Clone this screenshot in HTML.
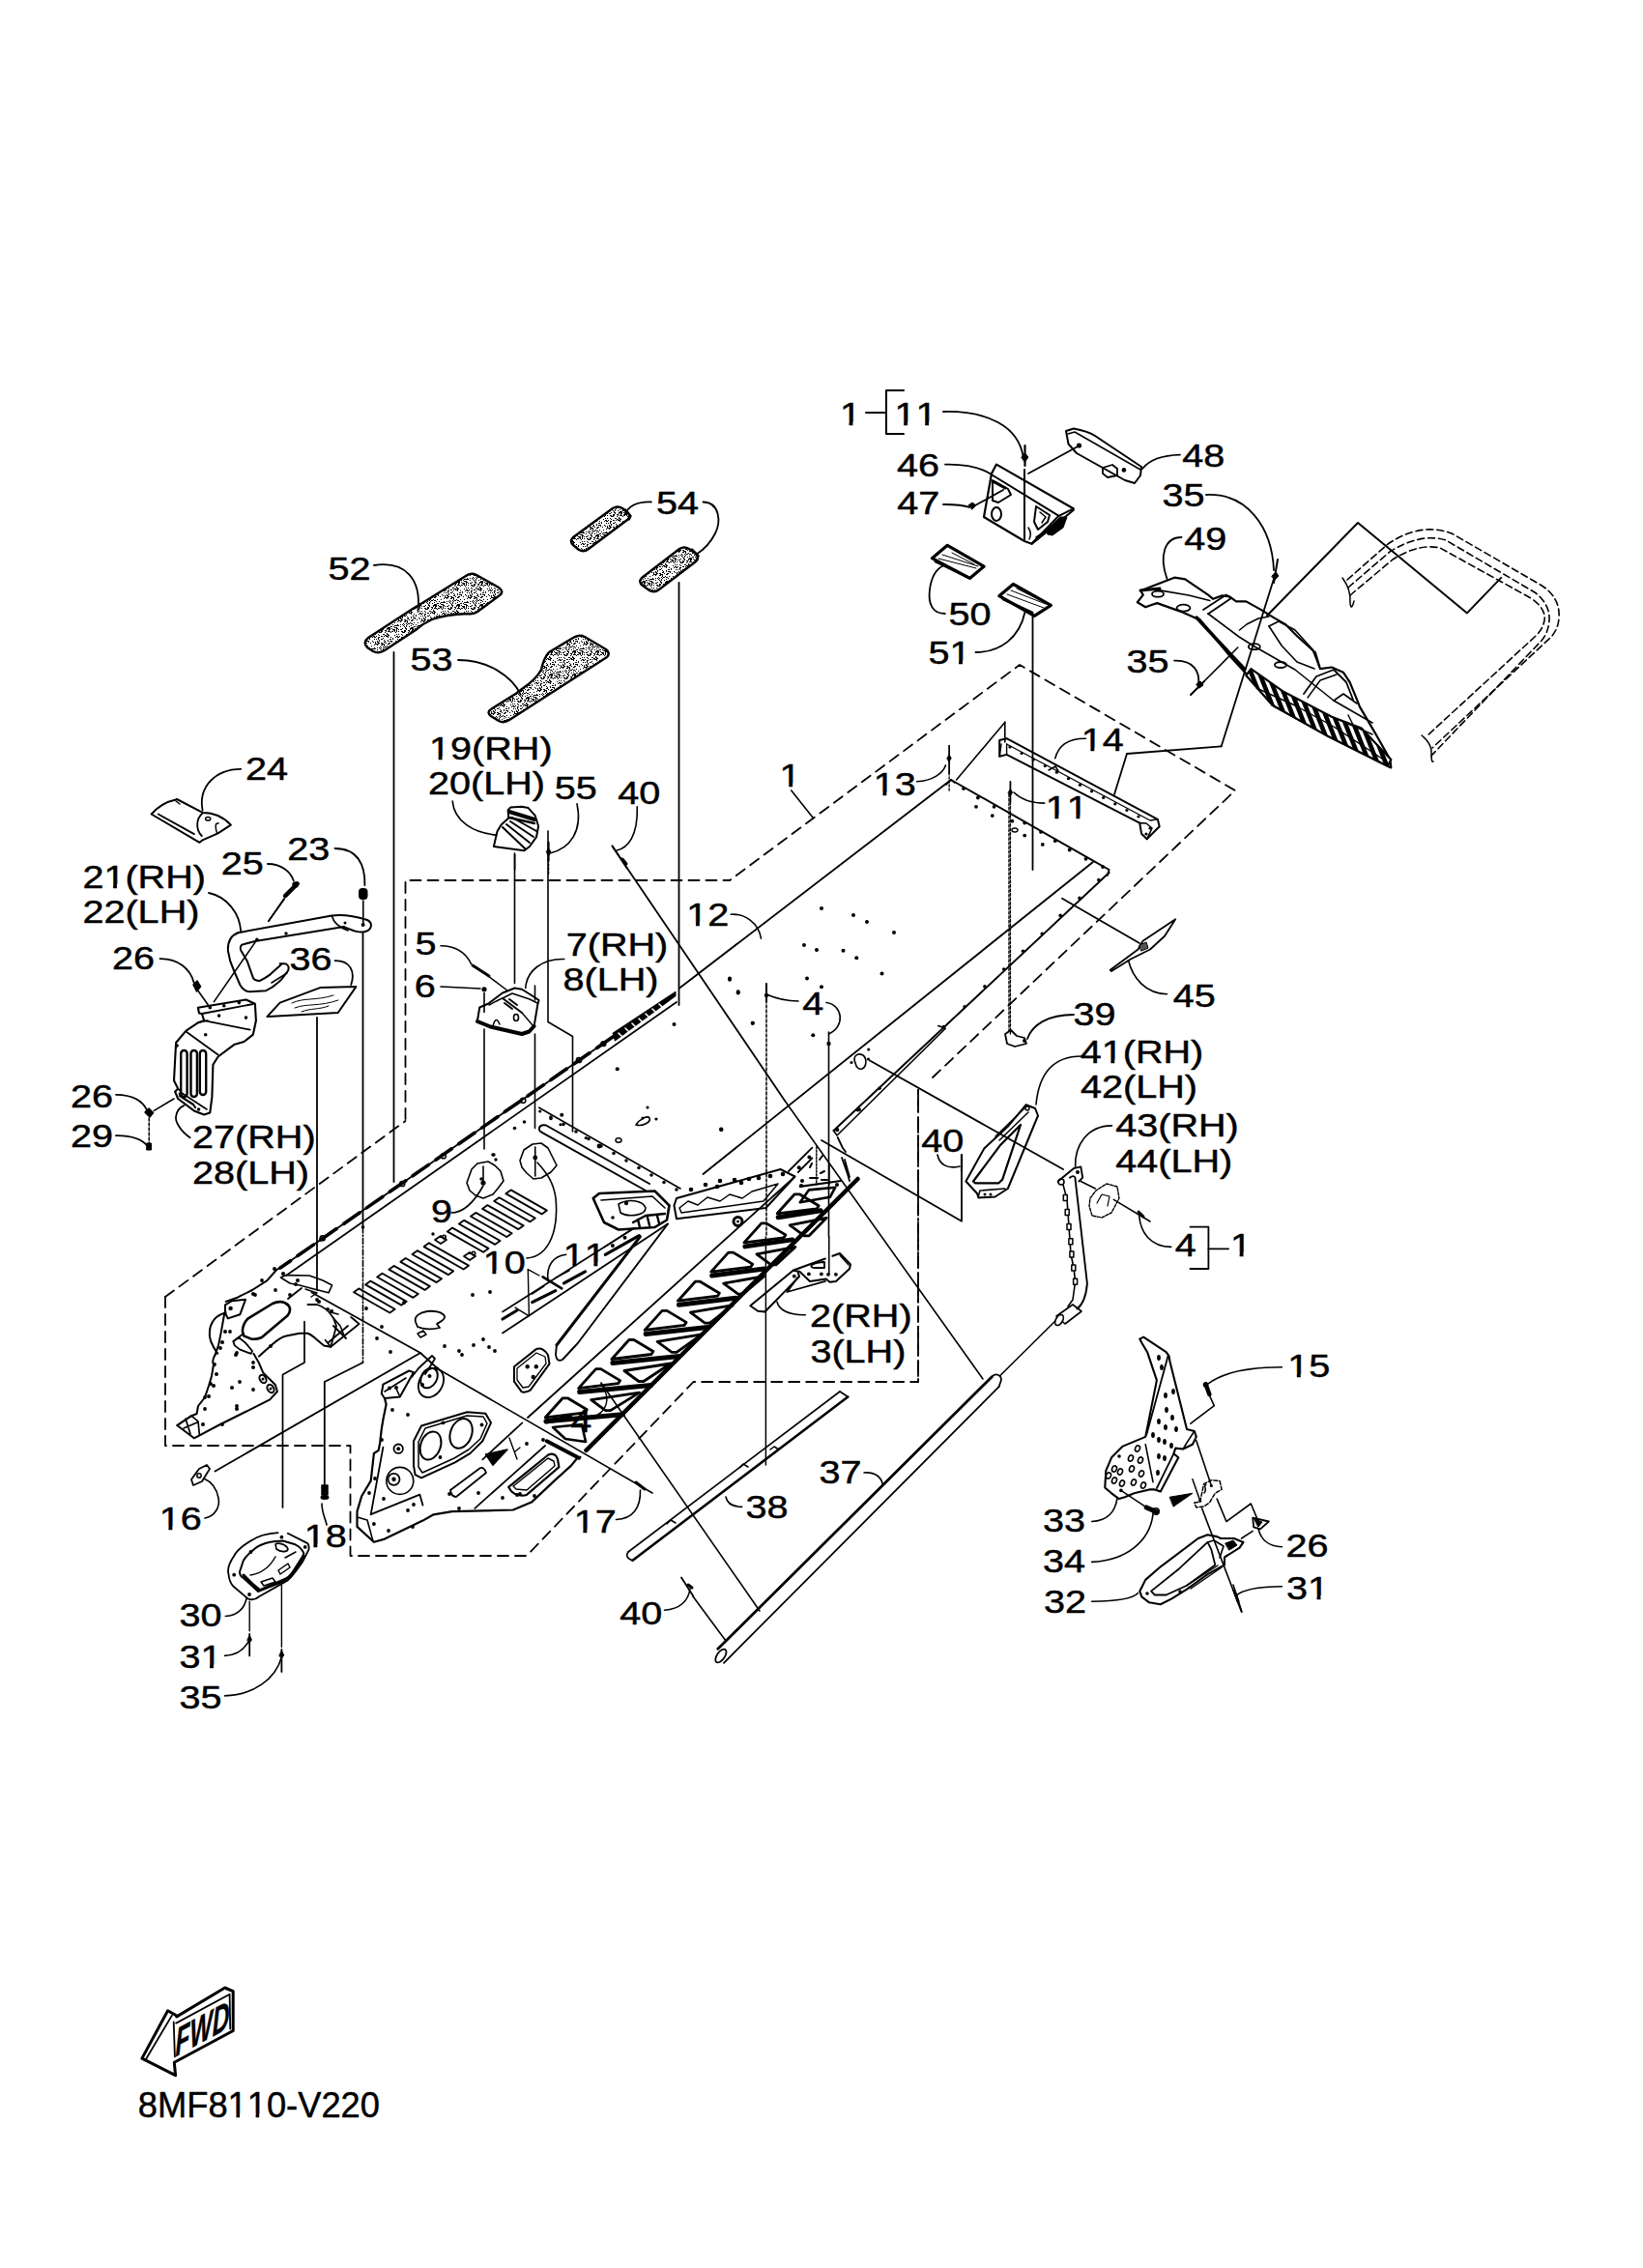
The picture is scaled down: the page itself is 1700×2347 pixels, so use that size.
<!DOCTYPE html>
<html><head><meta charset="utf-8"><style>
html,body{margin:0;padding:0;background:#fff;}
svg{display:block;}
text{font-family:"Liberation Sans",sans-serif;fill:#000;stroke:#000;stroke-width:0.45px;font-kerning:none;}
</style></head><body>
<svg width="1700" height="2347" viewBox="0 0 1700 2347" xmlns="http://www.w3.org/2000/svg" stroke-linecap="round" stroke-linejoin="round">
<rect width="1700" height="2347" fill="#fff"/>
<g transform="translate(679.0,532.2) scale(1.2,1)"><text font-size="33.0">54</text></g>
<g transform="translate(339.6,599.6) scale(1.2,1)"><text font-size="33.0">52</text></g>
<g transform="translate(424.5,694.4) scale(1.2,1)"><text font-size="33.0">53</text></g>
<g transform="translate(254.0,807.0) scale(1.2,1)"><text font-size="33.0">24</text></g>
<g transform="translate(444.0,786.0) scale(1.2,1)"><text font-size="33.0">19(RH)</text><rect x="1.65" y="-3.30" width="6.37" height="4.95" fill="#fff"/><rect x="11.29" y="-3.30" width="6.60" height="4.95" fill="#fff"/></g>
<g transform="translate(443.0,822.1) scale(1.2,1)"><text font-size="33.0">20(LH)</text></g>
<g transform="translate(573.8,827.1) scale(1.2,1)"><text font-size="33.0">55</text></g>
<g transform="translate(639.2,831.5) scale(1.2,1)"><text font-size="33.0">40</text></g>
<g transform="translate(297.2,890.2) scale(1.2,1)"><text font-size="33.0">23</text></g>
<g transform="translate(228.7,905.4) scale(1.2,1)"><text font-size="33.0">25</text></g>
<g transform="translate(85.4,918.5) scale(1.2,1)"><text font-size="33.0">21(RH)</text><rect x="20.00" y="-3.30" width="6.37" height="4.95" fill="#fff"/><rect x="29.63" y="-3.30" width="6.60" height="4.95" fill="#fff"/></g>
<g transform="translate(85.4,954.5) scale(1.2,1)"><text font-size="33.0">22(LH)</text></g>
<g transform="translate(710.3,957.8) scale(1.2,1)"><text font-size="33.0">12</text><rect x="1.65" y="-3.30" width="6.37" height="4.95" fill="#fff"/><rect x="11.29" y="-3.30" width="6.60" height="4.95" fill="#fff"/></g>
<g transform="translate(116.1,1003.4) scale(1.2,1)"><text font-size="33.0">26</text></g>
<g transform="translate(299.4,1004.3) scale(1.2,1)"><text font-size="33.0">36</text></g>
<g transform="translate(429.6,988.1) scale(1.2,1)"><text font-size="33.0">5</text></g>
<g transform="translate(428.8,1031.7) scale(1.2,1)"><text font-size="33.0">6</text></g>
<g transform="translate(585.7,988.9) scale(1.2,1)"><text font-size="33.0">7(RH)</text></g>
<g transform="translate(582.5,1025.1) scale(1.2,1)"><text font-size="33.0">8(LH)</text></g>
<g transform="translate(73.0,1146.0) scale(1.2,1)"><text font-size="33.0">26</text></g>
<g transform="translate(73.0,1187.0) scale(1.2,1)"><text font-size="33.0">29</text></g>
<g transform="translate(199.0,1188.0) scale(1.2,1)"><text font-size="33.0">27(RH)</text></g>
<g transform="translate(199.0,1225.0) scale(1.2,1)"><text font-size="33.0">28(LH)</text></g>
<g transform="translate(446.0,1265.0) scale(1.2,1)"><text font-size="33.0">9</text></g>
<g transform="translate(499.8,1318.0) scale(1.2,1)"><text font-size="33.0">10</text><rect x="1.65" y="-3.30" width="6.37" height="4.95" fill="#fff"/><rect x="11.29" y="-3.30" width="6.60" height="4.95" fill="#fff"/></g>
<g transform="translate(582.8,1310.0) scale(1.2,1)"><text font-size="33.0">11</text><rect x="1.65" y="-3.30" width="6.37" height="4.95" fill="#fff"/><rect x="11.29" y="-3.30" width="6.60" height="4.95" fill="#fff"/><rect x="20.00" y="-3.30" width="6.37" height="4.95" fill="#fff"/><rect x="29.63" y="-3.30" width="6.60" height="4.95" fill="#fff"/></g>
<g transform="translate(590.2,1482.0) scale(1.2,1)"><text font-size="33.0">4</text></g>
<g transform="translate(164.8,1583.0) scale(1.2,1)"><text font-size="33.0">16</text><rect x="1.65" y="-3.30" width="6.37" height="4.95" fill="#fff"/><rect x="11.29" y="-3.30" width="6.60" height="4.95" fill="#fff"/></g>
<g transform="translate(314.8,1601.0) scale(1.2,1)"><text font-size="33.0">18</text><rect x="1.65" y="-3.30" width="6.37" height="4.95" fill="#fff"/><rect x="11.29" y="-3.30" width="6.60" height="4.95" fill="#fff"/></g>
<g transform="translate(593.8,1586.0) scale(1.2,1)"><text font-size="33.0">17</text><rect x="1.65" y="-3.30" width="6.37" height="4.95" fill="#fff"/><rect x="11.29" y="-3.30" width="6.60" height="4.95" fill="#fff"/></g>
<g transform="translate(771.4,1571.0) scale(1.2,1)"><text font-size="33.0">38</text></g>
<g transform="translate(185.4,1683.0) scale(1.2,1)"><text font-size="33.0">30</text></g>
<g transform="translate(185.4,1726.0) scale(1.2,1)"><text font-size="33.0">31</text><rect x="20.00" y="-3.30" width="6.37" height="4.95" fill="#fff"/><rect x="29.63" y="-3.30" width="6.60" height="4.95" fill="#fff"/></g>
<g transform="translate(185.4,1768.0) scale(1.2,1)"><text font-size="33.0">35</text></g>
<g transform="translate(641.2,1681.0) scale(1.2,1)"><text font-size="33.0">40</text></g>
<g transform="translate(838.0,1373.0) scale(1.2,1)"><text font-size="33.0">2(RH)</text></g>
<g transform="translate(838.4,1410.0) scale(1.2,1)"><text font-size="33.0">3(LH)</text></g>
<g transform="translate(847.4,1535.0) scale(1.2,1)"><text font-size="33.0">37</text></g>
<g transform="translate(1332.2,1425.2) scale(1.2,1)"><text font-size="33.0">15</text><rect x="1.65" y="-3.30" width="6.37" height="4.95" fill="#fff"/><rect x="11.29" y="-3.30" width="6.60" height="4.95" fill="#fff"/></g>
<g transform="translate(1079.1,1584.7) scale(1.2,1)"><text font-size="33.0">33</text></g>
<g transform="translate(1079.1,1627.1) scale(1.2,1)"><text font-size="33.0">34</text></g>
<g transform="translate(1080.0,1668.6) scale(1.2,1)"><text font-size="33.0">32</text></g>
<g transform="translate(1330.5,1611.1) scale(1.2,1)"><text font-size="33.0">26</text></g>
<g transform="translate(1330.9,1654.5) scale(1.2,1)"><text font-size="33.0">31</text><rect x="20.00" y="-3.30" width="6.37" height="4.95" fill="#fff"/><rect x="29.63" y="-3.30" width="6.60" height="4.95" fill="#fff"/></g>
<g transform="translate(1215.8,1299.5) scale(1.2,1)"><text font-size="33.0">4</text></g>
<g transform="translate(1273.0,1299.5) scale(1.2,1)"><text font-size="33.0">1</text><rect x="1.65" y="-3.30" width="6.37" height="4.95" fill="#fff"/><rect x="11.29" y="-3.30" width="6.60" height="4.95" fill="#fff"/></g>
<g transform="translate(868.9,440.0) scale(1.2,1)"><text font-size="33.0">1</text><rect x="1.65" y="-3.30" width="6.37" height="4.95" fill="#fff"/><rect x="11.29" y="-3.30" width="6.60" height="4.95" fill="#fff"/></g>
<g transform="translate(925.5,440.0) scale(1.2,1)"><text font-size="33.0">11</text><rect x="1.65" y="-3.30" width="6.37" height="4.95" fill="#fff"/><rect x="11.29" y="-3.30" width="6.60" height="4.95" fill="#fff"/><rect x="20.00" y="-3.30" width="6.37" height="4.95" fill="#fff"/><rect x="29.63" y="-3.30" width="6.60" height="4.95" fill="#fff"/></g>
<g transform="translate(928.1,492.6) scale(1.2,1)"><text font-size="33.0">46</text></g>
<g transform="translate(928.3,531.8) scale(1.2,1)"><text font-size="33.0">47</text></g>
<g transform="translate(1223.2,483.0) scale(1.2,1)"><text font-size="33.0">48</text></g>
<g transform="translate(1202.4,524.0) scale(1.2,1)"><text font-size="33.0">35</text></g>
<g transform="translate(1225.2,569.0) scale(1.2,1)"><text font-size="33.0">49</text></g>
<g transform="translate(981.4,647.0) scale(1.2,1)"><text font-size="33.0">50</text></g>
<g transform="translate(960.4,687.0) scale(1.2,1)"><text font-size="33.0">51</text><rect x="20.00" y="-3.30" width="6.37" height="4.95" fill="#fff"/><rect x="29.63" y="-3.30" width="6.60" height="4.95" fill="#fff"/></g>
<g transform="translate(1165.4,696.0) scale(1.2,1)"><text font-size="33.0">35</text></g>
<g transform="translate(1118.8,777.0) scale(1.2,1)"><text font-size="33.0">14</text><rect x="1.65" y="-3.30" width="6.37" height="4.95" fill="#fff"/><rect x="11.29" y="-3.30" width="6.60" height="4.95" fill="#fff"/></g>
<g transform="translate(903.8,823.0) scale(1.2,1)"><text font-size="33.0">13</text><rect x="1.65" y="-3.30" width="6.37" height="4.95" fill="#fff"/><rect x="11.29" y="-3.30" width="6.60" height="4.95" fill="#fff"/></g>
<g transform="translate(1081.8,847.0) scale(1.2,1)"><text font-size="33.0">11</text><rect x="1.65" y="-3.30" width="6.37" height="4.95" fill="#fff"/><rect x="11.29" y="-3.30" width="6.60" height="4.95" fill="#fff"/><rect x="20.00" y="-3.30" width="6.37" height="4.95" fill="#fff"/><rect x="29.63" y="-3.30" width="6.60" height="4.95" fill="#fff"/></g>
<g transform="translate(806.6,814.0) scale(1.2,1)"><text font-size="33.0">1</text><rect x="1.65" y="-3.30" width="6.37" height="4.95" fill="#fff"/><rect x="11.29" y="-3.30" width="6.60" height="4.95" fill="#fff"/></g>
<g transform="translate(1213.8,1041.8) scale(1.2,1)"><text font-size="33.0">45</text></g>
<g transform="translate(1110.5,1061.2) scale(1.2,1)"><text font-size="33.0">39</text></g>
<g transform="translate(1117.7,1100.0) scale(1.2,1)"><text font-size="33.0">41(RH)</text><rect x="20.00" y="-3.30" width="6.37" height="4.95" fill="#fff"/><rect x="29.63" y="-3.30" width="6.60" height="4.95" fill="#fff"/></g>
<g transform="translate(1118.0,1136.2) scale(1.2,1)"><text font-size="33.0">42(LH)</text></g>
<g transform="translate(1154.2,1176.3) scale(1.2,1)"><text font-size="33.0">43(RH)</text></g>
<g transform="translate(1154.2,1212.5) scale(1.2,1)"><text font-size="33.0">44(LH)</text></g>
<g transform="translate(953.2,1192.0) scale(1.2,1)"><text font-size="33.0">40</text></g>
<g transform="translate(830.2,1049.8) scale(1.2,1)"><text font-size="33.0">4</text></g>
<g transform="translate(142.8,2191.0) scale(0.992,1)"><text font-size="36.6">8MF8110-V220</text><rect x="95.38" y="-3.66" width="7.06" height="5.49" fill="#fff"/><rect x="106.07" y="-3.66" width="7.32" height="5.49" fill="#fff"/><rect x="115.73" y="-3.66" width="7.06" height="5.49" fill="#fff"/><rect x="126.42" y="-3.66" width="7.32" height="5.49" fill="#fff"/></g>
<line x1="896" y1="427" x2="916" y2="427" stroke="#000" stroke-width="2" />
<path d="M935,404 L917,404 L917,449 L935,449" fill="none" stroke="#000" stroke-width="2" />
<path d="M976,426 C1020,425 1055,440 1059,475" fill="none" stroke="#000" stroke-width="1.8" />
<line x1="1060.5" y1="461" x2="1060.5" y2="482" stroke="#000" stroke-width="2.2" />
<path d="M1057,473 L1060.5,469 L1064,473 L1060.5,478 Z" fill="#000" stroke="#000" stroke-width="1" />
<line x1="1060" y1="486" x2="1060" y2="558" stroke="#000" stroke-width="2" />
<line x1="1064" y1="490" x2="1117" y2="461" stroke="#000" stroke-width="1.8" />
<path d="M1103,446 L1111,443.5 Q1125,446 1133,451 L1181,483 L1180,492 L1174,500 L1164,497 L1114,469 L1105.5,459.5 Z" fill="none" stroke="#000" stroke-width="2" />
<path d="M1105,449 L1112,447 L1180,486" fill="none" stroke="#000" stroke-width="1.5" />
<circle cx="1116.5" cy="461" r="2.6"/>
<circle cx="1162.9" cy="486.4" r="2.3"/>
<path d="M1141,484 L1151,481 L1156,485 L1156,492 L1146,494 L1141,490 Z" fill="none" stroke="#000" stroke-width="1.8" />
<path d="M1221,470.6 C1205,471 1190,475 1182,485" fill="none" stroke="#000" stroke-width="1.8" />
<path d="M1031,480.6 L1110.6,526.3 L1110.6,528 L1067.5,562.8 L1060,560 L1018,535 L1026,490 Z" fill="none" stroke="#000" stroke-width="2.2" />
<path d="M1026.5,491.5 L1095.6,533.8 L1110.6,526.3" fill="none" stroke="#000" stroke-width="2" />
<path d="M1095.6,533.8 L1067.5,562.5" fill="none" stroke="#000" stroke-width="2" />
<path d="M1084,547 L1097,535 L1104,535 L1100,546 L1089,554 L1084,553 Z" fill="#000" stroke="#000" stroke-width="1" />
<path d="M1072,556 L1100,538" fill="none" stroke="#000" stroke-width="1.5" />
<path d="M1072,524 L1086,533 L1084,540 L1074,548 L1070,540 Z" fill="none" stroke="#000" stroke-width="2" />
<path d="M1076,530 L1082,535 L1078,541" fill="none" stroke="#000" stroke-width="1.5" />
<path d="M1027,497 L1043,506 L1046,512 L1033,520 L1027,518 Z" fill="none" stroke="#000" stroke-width="2" />
<path d="M1029,499 L1040,505" fill="none" stroke="#000" stroke-width="3" />
<ellipse cx="1031" cy="532" rx="5" ry="7" fill="none" stroke="#000" stroke-width="2"/>
<path d="M1064,546 Q1068,552 1065,558" fill="none" stroke="#000" stroke-width="1.5" />
<path d="M978,480.6 C1000,480 1015,484 1026,491" fill="none" stroke="#000" stroke-width="1.8" />
<path d="M976,522 C990,522 998,523 1003,525" fill="none" stroke="#000" stroke-width="1.8" />
<path d="M1002,523 L1006,520 L1010,523 L1006,527 Z" fill="#000" stroke="#000" stroke-width="1" />
<line x1="1010" y1="522.5" x2="1038" y2="507" stroke="#000" stroke-width="1.8" />
<path d="M964.4,577.7 L980.3,564.3 L1018,586.2 L1003.4,598.4 Z" fill="none" stroke="#000" stroke-width="3.2" />
<path d="M971,578 L1010,588 M975,574 L1012,586 M985,572 L1008,584" fill="none" stroke="#000" stroke-width="1" />
<path d="M968,581 L1001,597" fill="none" stroke="#000" stroke-width="3" />
<path d="M1033.8,616.7 L1048.4,604.5 L1087.4,626.4 L1070.3,637.4 Z" fill="none" stroke="#000" stroke-width="3.2" />
<path d="M1042,615 L1080,629 M1046,611 L1082,625 M1052,609 L1078,622" fill="none" stroke="#000" stroke-width="1" />
<path d="M1038,620 L1068,634" fill="none" stroke="#000" stroke-width="3" />
<path d="M977.8,635 C965,635 960,625 962,610 C964,595 970,588 976.6,585" fill="none" stroke="#000" stroke-width="1.8" />
<path d="M1009.5,675 C1035,675 1055,660 1060.6,633" fill="none" stroke="#000" stroke-width="1.8" />
<line x1="1068.5" y1="638" x2="1068.5" y2="900" stroke="#000" stroke-width="1.8" />
<path d="M1176.8,623.2 L1182.8,615.6 L1180.2,611.3 L1204.1,601.9 L1215.2,597.7 L1226.2,599.4 L1250.1,615.6 L1255.2,619.8 L1264.6,616.4 L1272.2,617.3 L1279.1,622.4 L1289.3,622.4 L1304.6,630.9 L1318.3,639.4 L1330.2,646.2 L1342.1,658.2 L1360.9,675.2 L1366,692.2 L1377.9,690.5 L1389.8,695.7 L1396.6,705.9 L1404.3,724.6 L1406.9,731.4 L1423.9,760.4 L1438.4,786 L1439.3,794.5 L1435.8,792.8 L1374.5,762.1 L1316.6,729.7 L1292.7,700.8 L1272.2,678.6 L1241.6,641.1 L1234.8,638.6 L1221.1,632.6 L1197.3,624.1 L1192.2,625.8 L1185.3,628.3 Z" fill="none" stroke="#000" stroke-width="2.2" />
<clipPath id="flapclip"><path d="M1289.3,699 L1316.6,729.7 L1374.5,762.1 L1435.8,792.8 L1439.3,786 L1408.6,753.6 L1377.9,741.7 L1328.5,716.1 L1294.4,692.2 Z"/></clipPath>
<g clip-path="url(#flapclip)"><rect x="1280" y="680" width="170" height="130" fill="#fff"/><path d="M1220.0,680 l52,130 M1228.5,680 l52,130 M1237.0,680 l52,130 M1245.5,680 l52,130 M1254.0,680 l52,130 M1262.5,680 l52,130 M1271.0,680 l52,130 M1279.5,680 l52,130 M1288.0,680 l52,130 M1296.5,680 l52,130 M1305.0,680 l52,130 M1313.5,680 l52,130 M1322.0,680 l52,130 M1330.5,680 l52,130 M1339.0,680 l52,130 M1347.5,680 l52,130 M1356.0,680 l52,130 M1364.5,680 l52,130 M1373.0,680 l52,130 M1381.5,680 l52,130 M1390.0,680 l52,130 M1398.5,680 l52,130 M1407.0,680 l52,130 M1415.5,680 l52,130 M1424.0,680 l52,130 M1432.5,680 l52,130 M1441.0,680 l52,130 M1449.5,680 l52,130" stroke="#000" stroke-width="4.6" fill="none"/></g>
<path d="M1289.3,699 L1316.6,729.7 L1374.5,762.1 L1435.8,792.8 L1439.3,786 L1408.6,753.6 L1377.9,741.7 L1328.5,716.1 L1294.4,692.2 Z" fill="none" stroke="#000" stroke-width="2.2" />
<path d="M1300,712 L1340,730 L1380,752 L1430,785" fill="none" stroke="#000" stroke-width="1.4" />
<path d="M1238,639 L1262,665 L1287.6,692.2" fill="none" stroke="#000" stroke-width="3.5" />
<path d="M1197,610.4 L1230,616 L1251.8,621.5" fill="none" stroke="#000" stroke-width="1.6" />
<path d="M1245,630.9 L1268.8,615.6 L1274,619 L1250,635.2" fill="none" stroke="#000" stroke-width="1.8" />
<path d="M1250,635 L1282,659 L1298,669 L1340,693 L1380,725 L1420,748" fill="none" stroke="#000" stroke-width="1.6" />
<path d="M1282.5,652 L1290,646 L1302,640 L1313,638" fill="none" stroke="#000" stroke-width="1.6" />
<path d="M1313,648 L1323,643 L1340,652 L1358,672 L1365,690" fill="none" stroke="#000" stroke-width="1.6" />
<path d="M1313,648 L1326,668 L1342,685 L1360,692" fill="none" stroke="#000" stroke-width="1.6" />
<path d="M1349,718 L1362,700 L1380,693 L1393,706 L1400,724" fill="none" stroke="#000" stroke-width="1.8" />
<path d="M1353,722 L1366,704 L1383,698" fill="none" stroke="#000" stroke-width="1.4" />
<path d="M1380,725 L1390,718 L1404,728" fill="none" stroke="#000" stroke-width="1.6" />
<path d="M1386,745 L1420,760 M1395,740 L1410,770" fill="none" stroke="#000" stroke-width="1.4" />
<ellipse cx="1198" cy="614.7" rx="6" ry="3" fill="none" stroke="#000" stroke-width="1.8"/>
<ellipse cx="1224.5" cy="629.2" rx="7" ry="3.5" fill="none" stroke="#000" stroke-width="1.8"/>
<ellipse cx="1297.8" cy="669.2" rx="6" ry="3" fill="none" stroke="#000" stroke-width="1.8"/>
<ellipse cx="1325" cy="688" rx="6" ry="3" fill="none" stroke="#000" stroke-width="1.8"/>
<path d="M1180,611 L1200,609" fill="none" stroke="#000" stroke-width="3" />
<path d="M1222.5,556 C1205,556 1199,575 1207.5,599" fill="none" stroke="#000" stroke-width="1.8" />
<path d="M1248,512 C1290,510 1316,545 1318,590" fill="none" stroke="#000" stroke-width="1.8" />
<line x1="1322" y1="579" x2="1318" y2="603" stroke="#000" stroke-width="2" />
<path d="M1316,596 L1320,592 L1323,596 L1319,600 Z" fill="#000" stroke="#000" stroke-width="1" />
<line x1="1318.3" y1="598" x2="1263.7" y2="772.3" stroke="#000" stroke-width="1.8" />
<line x1="1263.7" y1="772.3" x2="1166" y2="780" stroke="#000" stroke-width="1.8" />
<line x1="1166" y1="780" x2="1153" y2="822" stroke="#000" stroke-width="1.8" />
<path d="M1215.2,683.7 C1235,683 1242,695 1239.9,709.3" fill="none" stroke="#000" stroke-width="1.8" />
<line x1="1232" y1="719" x2="1246" y2="705" stroke="#000" stroke-width="2" />
<path d="M1238,708 L1242,705 L1245,709 L1241,712 Z" fill="#000" stroke="#000" stroke-width="1" />
<line x1="1246.7" y1="704.2" x2="1280.8" y2="670" stroke="#000" stroke-width="1.6" />
<path d="M1311,637 L1405,541 L1518,634.4 L1553.2,597.9" fill="none" stroke="#000" stroke-width="2" />
<path d="M1394,600 L1436,563 Q1470,540 1502,552 L1592,604 Q1615,617 1613,640 Q1612,652 1604,660 L1482,774" fill="none" stroke="#000" stroke-width="1.6" stroke-dasharray="7 4"/>
<path d="M1395,608 L1438,571 Q1470,551 1496,559 L1588,613 Q1604,625 1603,642 Q1602,655 1595,663 L1481,782" fill="none" stroke="#000" stroke-width="1.6" stroke-dasharray="7 4"/>
<path d="M1397,616 L1441,579 Q1468,562 1490,567 L1584,619 Q1600,630 1598,642 Q1596,652 1588,659 L1476,762" fill="none" stroke="#000" stroke-width="1.6" stroke-dasharray="7 4"/>
<path d="M1389,598 Q1398,610 1397,624 Q1398,633 1401,622" fill="none" stroke="#000" stroke-width="1.5" />
<path d="M1471,761 Q1482,770 1481,780 Q1481,790 1483,788" fill="none" stroke="#000" stroke-width="1.5" />
<defs><pattern id="stip" width="24" height="24" patternUnits="userSpaceOnUse"><rect width="24" height="24" fill="#fff"/><rect x="6" y="0" width="1" height="1"/><rect x="10" y="0" width="1" height="1"/><rect x="12" y="0" width="1" height="1"/><rect x="15" y="0" width="1" height="1"/><rect x="20" y="0" width="1" height="1"/><rect x="21" y="0" width="1" height="1"/><rect x="23" y="0" width="1" height="1"/><rect x="0" y="1" width="1" height="1"/><rect x="1" y="1" width="1" height="1"/><rect x="2" y="1" width="1" height="1"/><rect x="11" y="1" width="1" height="1"/><rect x="17" y="1" width="1" height="1"/><rect x="18" y="1" width="1" height="1"/><rect x="19" y="1" width="1" height="1"/><rect x="2" y="2" width="1" height="1"/><rect x="3" y="2" width="1" height="1"/><rect x="8" y="2" width="1" height="1"/><rect x="11" y="2" width="1" height="1"/><rect x="12" y="2" width="1" height="1"/><rect x="16" y="2" width="1" height="1"/><rect x="17" y="2" width="1" height="1"/><rect x="18" y="2" width="1" height="1"/><rect x="19" y="2" width="1" height="1"/><rect x="21" y="2" width="1" height="1"/><rect x="0" y="3" width="1" height="1"/><rect x="2" y="3" width="1" height="1"/><rect x="4" y="3" width="1" height="1"/><rect x="6" y="3" width="1" height="1"/><rect x="7" y="3" width="1" height="1"/><rect x="12" y="3" width="1" height="1"/><rect x="16" y="3" width="1" height="1"/><rect x="18" y="3" width="1" height="1"/><rect x="19" y="3" width="1" height="1"/><rect x="22" y="3" width="1" height="1"/><rect x="23" y="3" width="1" height="1"/><rect x="0" y="4" width="1" height="1"/><rect x="2" y="4" width="1" height="1"/><rect x="10" y="4" width="1" height="1"/><rect x="11" y="4" width="1" height="1"/><rect x="14" y="4" width="1" height="1"/><rect x="15" y="4" width="1" height="1"/><rect x="18" y="4" width="1" height="1"/><rect x="23" y="4" width="1" height="1"/><rect x="0" y="5" width="1" height="1"/><rect x="2" y="5" width="1" height="1"/><rect x="4" y="5" width="1" height="1"/><rect x="7" y="5" width="1" height="1"/><rect x="8" y="5" width="1" height="1"/><rect x="10" y="5" width="1" height="1"/><rect x="11" y="5" width="1" height="1"/><rect x="15" y="5" width="1" height="1"/><rect x="17" y="5" width="1" height="1"/><rect x="18" y="5" width="1" height="1"/><rect x="19" y="5" width="1" height="1"/><rect x="21" y="5" width="1" height="1"/><rect x="22" y="5" width="1" height="1"/><rect x="1" y="6" width="1" height="1"/><rect x="8" y="6" width="1" height="1"/><rect x="9" y="6" width="1" height="1"/><rect x="10" y="6" width="1" height="1"/><rect x="14" y="6" width="1" height="1"/><rect x="20" y="6" width="1" height="1"/><rect x="16" y="7" width="1" height="1"/><rect x="2" y="8" width="1" height="1"/><rect x="4" y="8" width="1" height="1"/><rect x="7" y="8" width="1" height="1"/><rect x="12" y="8" width="1" height="1"/><rect x="13" y="8" width="1" height="1"/><rect x="16" y="8" width="1" height="1"/><rect x="17" y="8" width="1" height="1"/><rect x="0" y="9" width="1" height="1"/><rect x="8" y="9" width="1" height="1"/><rect x="14" y="9" width="1" height="1"/><rect x="15" y="9" width="1" height="1"/><rect x="17" y="9" width="1" height="1"/><rect x="18" y="9" width="1" height="1"/><rect x="2" y="10" width="1" height="1"/><rect x="3" y="10" width="1" height="1"/><rect x="5" y="10" width="1" height="1"/><rect x="10" y="10" width="1" height="1"/><rect x="11" y="10" width="1" height="1"/><rect x="13" y="10" width="1" height="1"/><rect x="15" y="10" width="1" height="1"/><rect x="16" y="10" width="1" height="1"/><rect x="17" y="10" width="1" height="1"/><rect x="1" y="11" width="1" height="1"/><rect x="3" y="11" width="1" height="1"/><rect x="4" y="11" width="1" height="1"/><rect x="7" y="11" width="1" height="1"/><rect x="8" y="11" width="1" height="1"/><rect x="17" y="11" width="1" height="1"/><rect x="20" y="11" width="1" height="1"/><rect x="7" y="12" width="1" height="1"/><rect x="12" y="12" width="1" height="1"/><rect x="22" y="12" width="1" height="1"/><rect x="3" y="13" width="1" height="1"/><rect x="5" y="13" width="1" height="1"/><rect x="7" y="13" width="1" height="1"/><rect x="10" y="13" width="1" height="1"/><rect x="11" y="13" width="1" height="1"/><rect x="19" y="13" width="1" height="1"/><rect x="20" y="13" width="1" height="1"/><rect x="22" y="13" width="1" height="1"/><rect x="8" y="14" width="1" height="1"/><rect x="13" y="14" width="1" height="1"/><rect x="17" y="14" width="1" height="1"/><rect x="1" y="15" width="1" height="1"/><rect x="6" y="15" width="1" height="1"/><rect x="8" y="15" width="1" height="1"/><rect x="14" y="15" width="1" height="1"/><rect x="17" y="15" width="1" height="1"/><rect x="19" y="15" width="1" height="1"/><rect x="20" y="15" width="1" height="1"/><rect x="21" y="15" width="1" height="1"/><rect x="2" y="16" width="1" height="1"/><rect x="4" y="16" width="1" height="1"/><rect x="6" y="16" width="1" height="1"/><rect x="7" y="16" width="1" height="1"/><rect x="13" y="16" width="1" height="1"/><rect x="14" y="16" width="1" height="1"/><rect x="21" y="16" width="1" height="1"/><rect x="4" y="17" width="1" height="1"/><rect x="7" y="17" width="1" height="1"/><rect x="8" y="17" width="1" height="1"/><rect x="10" y="17" width="1" height="1"/><rect x="11" y="17" width="1" height="1"/><rect x="15" y="17" width="1" height="1"/><rect x="18" y="17" width="1" height="1"/><rect x="19" y="17" width="1" height="1"/><rect x="23" y="17" width="1" height="1"/><rect x="4" y="18" width="1" height="1"/><rect x="5" y="18" width="1" height="1"/><rect x="6" y="18" width="1" height="1"/><rect x="7" y="18" width="1" height="1"/><rect x="11" y="18" width="1" height="1"/><rect x="12" y="18" width="1" height="1"/><rect x="13" y="18" width="1" height="1"/><rect x="17" y="18" width="1" height="1"/><rect x="18" y="18" width="1" height="1"/><rect x="3" y="19" width="1" height="1"/><rect x="6" y="19" width="1" height="1"/><rect x="10" y="19" width="1" height="1"/><rect x="11" y="19" width="1" height="1"/><rect x="13" y="19" width="1" height="1"/><rect x="0" y="20" width="1" height="1"/><rect x="13" y="20" width="1" height="1"/><rect x="16" y="20" width="1" height="1"/><rect x="20" y="20" width="1" height="1"/><rect x="9" y="21" width="1" height="1"/><rect x="12" y="21" width="1" height="1"/><rect x="14" y="21" width="1" height="1"/><rect x="15" y="21" width="1" height="1"/><rect x="17" y="21" width="1" height="1"/><rect x="18" y="21" width="1" height="1"/><rect x="3" y="22" width="1" height="1"/><rect x="6" y="22" width="1" height="1"/><rect x="8" y="22" width="1" height="1"/><rect x="10" y="22" width="1" height="1"/><rect x="13" y="22" width="1" height="1"/><rect x="19" y="22" width="1" height="1"/><rect x="22" y="22" width="1" height="1"/><rect x="0" y="23" width="1" height="1"/><rect x="1" y="23" width="1" height="1"/><rect x="2" y="23" width="1" height="1"/><rect x="3" y="23" width="1" height="1"/><rect x="4" y="23" width="1" height="1"/><rect x="9" y="23" width="1" height="1"/><rect x="12" y="23" width="1" height="1"/><rect x="17" y="23" width="1" height="1"/></pattern></defs>
<path d="M593,556 L634,526 Q639,523 644,526 L650,531 Q653,535 649,538 L609,568 Q604,572 599,569 L593,564 Q589,560 593,556 Z" fill="url(#stip)" stroke="#000" stroke-width="2.4" />
<path d="M647,527 L653,534 L651,538" fill="none" stroke="#000" stroke-width="1.6" />
<path d="M664,598 L703,568 Q708,565 713,568 L720,573 Q724,577 720,581 L682,610 Q677,614 672,611 L665,606 Q660,602 664,598 Z" fill="url(#stip)" stroke="#000" stroke-width="2.4" />
<path d="M716,568 L723,575 L721,580" fill="none" stroke="#000" stroke-width="1.6" />
<path d="M381,660 L427,630 L437,624 L482,596 Q487,592 493,595 L516,608 Q522,612 517,616 L494,633 Q490,636 484,635 Q460,636 447,641 Q438,645 430,652 L398,673 Q392,677 386,674 L380,670 Q375,665 381,660 Z" fill="url(#stip)" stroke="#000" stroke-width="2.4" />
<path d="M508,734 L535,717 L540,713 Q555,703 560,693 Q563,680 568,675 L593,660 Q599,656 605,659 L627,672 Q632,676 628,680 L527,745 Q521,749 516,746 L508,741 Q503,737 508,734 Z" fill="url(#stip)" stroke="#000" stroke-width="2.4" />
<line x1="407.5" y1="675" x2="407.5" y2="1223" stroke="#000" stroke-width="1.8" />
<line x1="702.5" y1="603" x2="702.5" y2="1040" stroke="#000" stroke-width="1.8" />
<path d="M387,585 C420,580 436,600 432.5,632" fill="none" stroke="#000" stroke-width="1.8" />
<path d="M474,683 C505,683 530,700 538.8,718.8" fill="none" stroke="#000" stroke-width="1.8" />
<path d="M673.8,519.5 C660,519 650,524 646,533" fill="none" stroke="#000" stroke-width="1.8" />
<path d="M727.5,519.5 C745,520 746,540 740,552 C735,562 728,569 720,574" fill="none" stroke="#000" stroke-width="1.8" />
<path d="M156.6,842.5 C165,833 175,829 181.9,827.5 L183,827 L209.6,840.9 C222,841 232,846 238.9,853.6 L225.5,862.3 L209.6,869.4 L206.5,871.8 Z" fill="none" stroke="#000" stroke-width="2" />
<path d="M163.7,842.5 L200.9,863.1" fill="none" stroke="#000" stroke-width="1.8" />
<path d="M209.6,841.5 C203,847 202,858 208.8,865" fill="none" stroke="#000" stroke-width="1.8" />
<ellipse cx="215.2" cy="847.3" rx="2.6" ry="1.8" fill="none" stroke="#000" stroke-width="1.5"/>
<path d="M226,852 C222,851 223,858 224.5,862" fill="none" stroke="#000" stroke-width="1.5" />
<path d="M182,829 L186,832" fill="none" stroke="#000" stroke-width="1.5" />
<path d="M249.2,795.8 C222,796 205,815 209.6,838.6" fill="none" stroke="#000" stroke-width="1.8" />
<rect x="371" y="919" width="9.5" height="12" rx="4" fill="#000"/>
<line x1="375.8" y1="932" x2="375.8" y2="957" stroke="#000" stroke-width="1.6" />
<path d="M346.5,878 C370,878 378,895 377.4,916" fill="none" stroke="#000" stroke-width="1.8" />
<path d="M307.7,914.5 L295.1,927.2" fill="none" stroke="#000" stroke-width="4.5" />
<circle cx="305.6" cy="915.5" r="3.3"/>
<line x1="294.3" y1="930.3" x2="277.7" y2="953.3" stroke="#000" stroke-width="1.6" />
<path d="M276.9,894 C292,894 301,903 303.8,911.3" fill="none" stroke="#000" stroke-width="1.8" />
<path d="M216,924 C235,928 248,945 249.2,963.6" fill="none" stroke="#000" stroke-width="1.8" />
<path d="M246.3,965.2 L343.5,947.6 C355,946 370,949 380,952 C386,955 385,962 378,964 C372,966 365,963 355,959" fill="none" stroke="#000" stroke-width="2" />
<path d="M267,973.5 L356,959" fill="none" stroke="#000" stroke-width="2" />
<path d="M343.5,948 C345,955 352,960 360,963" fill="none" stroke="#000" stroke-width="1.6" />
<circle cx="375.6" cy="957" r="2"/>
<circle cx="357" cy="955" r="1.5"/>
<circle cx="296" cy="966" r="1.7"/>
<path d="M246.3,965.2 C239,968 235.5,975 235.9,983.8 C237,992 239,998 242.1,1004.5 L248.3,1019 C251,1024 255,1026.2 258.7,1026.2 L275.2,1025.2 C282,1022 288,1017 291.8,1012.8 L298,1004.5 C300,1000 297,997.3 294,997.3 L289.7,997.3" fill="none" stroke="#000" stroke-width="2" />
<path d="M265.9,973.5 L250.4,977.6 C248.5,979 248.5,982 249.4,983.8 L255.6,994.2 L261.8,1011.7 C263,1014 266,1015 269,1014.9 C273,1013 276,1011 279.4,1008.6 L290.8,998.3" fill="none" stroke="#000" stroke-width="2" />
<path d="M281,1017 L297,1007" fill="none" stroke="#000" stroke-width="1.5" />
<circle cx="265.9" cy="972.4" r="1.8"/>
<line x1="293.9" y1="930" x2="278.3" y2="952.8" stroke="#000" stroke-width="1.6" />
<line x1="265.9" y1="972.4" x2="221.4" y2="1036.6" stroke="#000" stroke-width="1.6" />
<path d="M200,1019 L204,1015 L207.5,1021 L203.5,1026 Z" fill="#000" stroke="#000" stroke-width="1.5" />
<line x1="204.9" y1="1025.2" x2="215.2" y2="1039.7" stroke="#000" stroke-width="1.6" />
<path d="M165.5,992.1 C185,992 197,1003 200.7,1016.9" fill="none" stroke="#000" stroke-width="1.8" />
<path d="M204.9,1042.8 L254.5,1034.5 L263.9,1038.7 L264.9,1056.2 L261.8,1070.7 L252.5,1078 L242.1,1081.1 L225.6,1093.5 L220.4,1101.8 L219.4,1134.9 L217.3,1151.4 L211.1,1153.5 L200.7,1149.4 L184.2,1137 L181.1,1129.7 L184.2,1126.6 L180,1118.3 L182.1,1079 L192.5,1066.6 L204.9,1058.3 L211.1,1056.2 L209,1049 L206,1048.5 Z" fill="none" stroke="#000" stroke-width="2.1" />
<path d="M209,1049 L262,1039" fill="none" stroke="#000" stroke-width="1.8" />
<path d="M211.1,1056.2 L258.7,1065.6" fill="none" stroke="#000" stroke-width="1.8" />
<path d="M192.5,1067.6 L225.6,1091.4" fill="none" stroke="#000" stroke-width="1.8" />
<path d="M204.9,1058.3 L215,1056" fill="none" stroke="#000" stroke-width="1.6" />
<rect x="187.20000000000002" y="1087" width="6.4" height="48" rx="3.2" fill="none" stroke="#000" stroke-width="2.4"/>
<rect x="197.5" y="1087" width="6.4" height="48" rx="3.2" fill="none" stroke="#000" stroke-width="2.4"/>
<rect x="206.8" y="1087" width="6.4" height="46" rx="3.2" fill="none" stroke="#000" stroke-width="2.4"/>
<circle cx="217.3" cy="1042.8" r="1.8"/>
<circle cx="231.8" cy="1040.7" r="1.8"/>
<circle cx="247.3" cy="1037.6" r="1.8"/>
<circle cx="226.6" cy="1051.1" r="1.8"/>
<circle cx="254.5" cy="1053.1" r="1.8"/>
<circle cx="212.7" cy="1070.7" r="1.8"/>
<circle cx="183.1" cy="1082.1" r="1.8"/>
<circle cx="186.4" cy="1132" r="1.8"/>
<circle cx="205.5" cy="1148" r="1.8"/>
<path d="M186,1134 L200,1143 L202,1146" fill="none" stroke="#000" stroke-width="2.2" />
<path d="M184.2,1126.6 L188,1131 L214,1148" fill="none" stroke="#000" stroke-width="1.6" />
<path d="M150,1151 L154,1147 L158.5,1151.5 L155,1156 Z" fill="#000" stroke="#000" stroke-width="1.5" />
<line x1="159.3" y1="1149.4" x2="180" y2="1137" stroke="#000" stroke-width="1.6" />
<line x1="154.2" y1="1157" x2="154.2" y2="1183" stroke="#000" stroke-width="1.5" stroke-dasharray="3 2"/>
<path d="M152,1183 L156.5,1183 L156.5,1190 L152,1190 Z" fill="#000" stroke="#000" stroke-width="1" />
<path d="M120,1132.8 C138,1133 148,1140 152.1,1149" fill="none" stroke="#000" stroke-width="1.8" />
<path d="M120,1175.2 C138,1175 148,1180 153.1,1186.5" fill="none" stroke="#000" stroke-width="1.8" />
<path d="M196.6,1177.3 C186,1170 181,1160 182.1,1155 C183,1150 186,1146 190.4,1144.2" fill="none" stroke="#000" stroke-width="1.8" />
<path d="M276.3,1052.1 L289.7,1037.6 L331.1,1022.1 L368.4,1021.1 L349.7,1048 L277.3,1052.1 Z" fill="none" stroke="#000" stroke-width="2" />
<path d="M302,1038 C315,1032 325,1036 345,1030 M305,1043 C318,1038 330,1042 350,1035 M312,1047 C322,1043 330,1045 340,1041" fill="none" stroke="#000" stroke-width="1" />
<path d="M346.6,994.2 C362,994 368,1005 363.2,1019" fill="none" stroke="#000" stroke-width="1.8" />
<line x1="328" y1="1053" x2="328" y2="1335" stroke="#000" stroke-width="1.8" />
<line x1="375.5" y1="966" x2="375.5" y2="1270" stroke="#000" stroke-width="1.8" />
<line x1="375.5" y1="1270" x2="375.5" y2="1410" stroke="#000" stroke-width="1.6" stroke-dasharray="6 2 1.5 2"/>
<circle cx="375.5" cy="1270" r="1.8"/>
<path d="M375.5,1410 L335.8,1430 L335.8,1538" fill="none" stroke="#000" stroke-width="1.8" />
<path d="M419.5,1158 L419.5,911 L755,911" fill="none" stroke="#000" stroke-width="1.8" stroke-dasharray="11 7"/>
<line x1="532.5" y1="883" x2="532.5" y2="1017.5" stroke="#000" stroke-width="1.6" />
<path d="M567,860 L567,1057.5 L592.5,1072.5 L592.5,1171" fill="none" stroke="#000" stroke-width="1.6" />
<line x1="633.75" y1="876" x2="812" y2="1139" stroke="#000" stroke-width="1.8" />
<path d="M456,978.75 C475,979 483,988 487.5,997.5" fill="none" stroke="#000" stroke-width="1.6" />
<path d="M489,999 L506,1010" fill="none" stroke="#000" stroke-width="3" />
<line x1="505" y1="1010" x2="525" y2="1025" stroke="#000" stroke-width="1.5" />
<path d="M456,1021 L497,1023" fill="none" stroke="#000" stroke-width="1.6" />
<circle cx="501" cy="1023.75" r="2.6"/>
<line x1="501" y1="1027.5" x2="501" y2="1047.5" stroke="#000" stroke-width="1.6" />
<line x1="501" y1="1065" x2="501" y2="1189" stroke="#000" stroke-width="1.6" />
<path d="M493.75,1057.5 L496.25,1042.5 L505,1038.75 L520,1027.5 L532.5,1022.5 L540,1023.75 L550,1030 L557.5,1035 L556.25,1040 L552.5,1062.5 L547.5,1067.5 L540,1070 L507.5,1062.5 Z" fill="none" stroke="#000" stroke-width="2" />
<path d="M494,1057 L507.5,1062.5 L540,1070 L547.5,1067.5 L552.5,1062" fill="none" stroke="#000" stroke-width="4" />
<path d="M506,1040 Q515,1035 520,1033 L530,1028 L548,1034 L556,1038" fill="none" stroke="#000" stroke-width="1.5" />
<path d="M520,1033 L540,1048 M522,1038 L530,1044 M527,1034 L535,1040" fill="none" stroke="#000" stroke-width="2" />
<ellipse cx="534" cy="1053" rx="2.5" ry="3.5" fill="none" stroke="#000" stroke-width="1.6"/>
<path d="M510,1062 Q513,1050 517,1060" fill="none" stroke="#000" stroke-width="1.5" />
<path d="M540,1048 L552,1062" fill="none" stroke="#000" stroke-width="1.4" />
<path d="M583.75,992.5 C560,992 545,1005 543.75,1022.5" fill="none" stroke="#000" stroke-width="1.6" />
<line x1="553.5" y1="1020" x2="553.5" y2="1035" stroke="#000" stroke-width="1.6" />
<line x1="553.5" y1="1070" x2="553.5" y2="1167.5" stroke="#000" stroke-width="1.6" />
<circle cx="697.5" cy="1060" r="2"/>
<circle cx="638.75" cy="1106.25" r="2"/>
<circle cx="755" cy="1013.75" r="2"/>
<circle cx="763.75" cy="1027.5" r="2"/>
<circle cx="778.75" cy="1058.75" r="2"/>
<circle cx="746.25" cy="1168.75" r="2.2"/>
<circle cx="532.5" cy="1167.5" r="1.8"/>
<circle cx="542.5" cy="1161" r="1.8"/>
<circle cx="558.75" cy="1150" r="1.6"/>
<circle cx="570" cy="1157.5" r="1.8"/>
<circle cx="581.25" cy="1153.75" r="2"/>
<circle cx="580" cy="1163.75" r="1.6"/>
<circle cx="606.25" cy="1177.5" r="1.6"/>
<circle cx="620" cy="1186" r="2.4"/>
<circle cx="510" cy="1195" r="1.8"/>
<circle cx="665" cy="1157" r="1.6"/>
<circle cx="670" cy="1146" r="1.6"/>
<circle cx="679" cy="1158" r="1.6"/>
<ellipse cx="640" cy="1180" rx="3" ry="2.2" fill="none" stroke="#000" stroke-width="1.5"/>
<path d="M658,1164 C662,1158 670,1154 672,1157 C674,1161 665,1166 658,1164 Z" fill="none" stroke="#000" stroke-width="1.6" />
<path d="M565,1164.5 L672,1225 M560.7,1171.8 L668,1232 M565,1164.5 C557,1163 556,1170 560.7,1171.8" fill="none" stroke="#000" stroke-width="2" />
<line x1="557.8" y1="1146.2" x2="704" y2="1230" stroke="#000" stroke-width="1.6" />
<circle cx="570.0" cy="1156.0" r="1.8"/>
<circle cx="583.0" cy="1163.5" r="1.8"/>
<circle cx="596.0" cy="1171.0" r="1.8"/>
<circle cx="609.0" cy="1178.5" r="1.8"/>
<circle cx="622.0" cy="1186.0" r="1.8"/>
<circle cx="635.0" cy="1193.5" r="1.8"/>
<circle cx="648.0" cy="1201.0" r="1.8"/>
<circle cx="661.0" cy="1208.5" r="1.8"/>
<circle cx="674.0" cy="1216.0" r="1.8"/>
<circle cx="687.0" cy="1223.5" r="1.8"/>
<circle cx="700.0" cy="1231.0" r="1.8"/>
<path d="M805.2,1259.8 L849.2,1252.8" fill="none" stroke="#000" stroke-width="5" />
<path d="M804.2,1255.8 L822.2,1235.8 L827.2,1235.8 L847.2,1247.8 L845.2,1250.8 Z" fill="none" stroke="#000" stroke-width="2.8" />
<path d="M817.2,1267.8 L855.2,1260.3 L837.2,1278.8 L832.2,1278.8 Z" fill="none" stroke="#000" stroke-width="2.8" />
<path d="M770.9,1289.9 L819.9,1282.9" fill="none" stroke="#000" stroke-width="5" />
<path d="M769.9,1285.9 L787.9,1265.9 L792.9,1265.9 L812.9,1277.9 L810.9,1280.9 Z" fill="none" stroke="#000" stroke-width="2.8" />
<path d="M782.9,1297.9 L822.9,1290.4 L802.9,1308.9 L797.9,1308.9 Z" fill="none" stroke="#000" stroke-width="2.8" />
<path d="M736.7,1320.1 L790.7,1313.1" fill="none" stroke="#000" stroke-width="5" />
<path d="M735.7,1316.1 L753.7,1296.1 L758.7,1296.1 L778.7,1308.1 L776.7,1311.1 Z" fill="none" stroke="#000" stroke-width="2.8" />
<path d="M748.7,1328.1 L790.7,1320.6 L768.7,1339.1 L763.7,1339.1 Z" fill="none" stroke="#000" stroke-width="2.8" />
<path d="M702.4,1350.2 L761.4,1343.2" fill="none" stroke="#000" stroke-width="5" />
<path d="M701.4,1346.2 L719.4,1326.2 L724.4,1326.2 L744.4,1338.2 L742.4,1341.2 Z" fill="none" stroke="#000" stroke-width="2.8" />
<path d="M714.4,1358.2 L758.4,1350.7 L734.4,1369.2 L729.4,1369.2 Z" fill="none" stroke="#000" stroke-width="2.8" />
<path d="M668.1,1380.4 L732.1,1373.4" fill="none" stroke="#000" stroke-width="5" />
<path d="M667.1,1376.4 L685.1,1356.4 L690.1,1356.4 L710.1,1368.4 L708.1,1371.4 Z" fill="none" stroke="#000" stroke-width="2.8" />
<path d="M680.1,1388.4 L726.1,1380.9 L700.1,1399.4 L695.1,1399.4 Z" fill="none" stroke="#000" stroke-width="2.8" />
<path d="M633.9,1410.5 L702.9,1403.5" fill="none" stroke="#000" stroke-width="5" />
<path d="M632.9,1406.5 L650.9,1386.5 L655.9,1386.5 L675.9,1398.5 L673.9,1401.5 Z" fill="none" stroke="#000" stroke-width="2.8" />
<path d="M645.9,1418.5 L693.9,1411.0 L665.9,1429.5 L660.9,1429.5 Z" fill="none" stroke="#000" stroke-width="2.8" />
<path d="M599.6,1440.6 L673.6,1433.6" fill="none" stroke="#000" stroke-width="5" />
<path d="M598.6,1436.6 L616.6,1416.6 L621.6,1416.6 L641.6,1428.6 L639.6,1431.6 Z" fill="none" stroke="#000" stroke-width="2.8" />
<path d="M611.6,1448.6 L661.6,1441.1 L631.6,1459.6 L626.6,1459.6 Z" fill="none" stroke="#000" stroke-width="2.8" />
<path d="M565.3,1470.8 L644.3,1463.8" fill="none" stroke="#000" stroke-width="5" />
<path d="M564.3,1466.8 L582.3,1446.8 L587.3,1446.8 L607.3,1458.8 L605.3,1461.8 Z" fill="none" stroke="#000" stroke-width="2.8" />
<path d="M827.8,1227.8 L870,1222" fill="none" stroke="#000" stroke-width="2.2" />
<path d="M836.9,1231.4 L864.3,1228.7 L858.8,1238.8 L827.8,1244.2 Z" fill="none" stroke="#000" stroke-width="2.6" />
<path d="M572.0,1477.0 L602.0,1474.0 L606.0,1492.0 L585.0,1489.0 Z" fill="none" stroke="#000" stroke-width="2.6" />
<path d="M565,1471 L590,1467" fill="none" stroke="#000" stroke-width="5" />
<line x1="887.5" y1="1220" x2="606.5" y2="1500.8" stroke="#000" stroke-width="4.5" />
<line x1="822" y1="1218" x2="546" y2="1467" stroke="#000" stroke-width="1.8" />
<path d="M171,1342 L171,1496 L362.5,1496 L362.5,1610 L545,1610 L717.5,1430 L950,1430 L950,1128" fill="none" stroke="#000" stroke-width="1.8" stroke-dasharray="11 7"/>
<path d="M950,1128 L950,1430" fill="none" stroke="#000" stroke-width="1.8" stroke-dasharray="16 5 2 5"/>
<path d="M965,1115 L1278,818 L1055,688 L755,911" fill="none" stroke="#000" stroke-width="1.8" stroke-dasharray="11 7"/>
<path d="M171,1342 L419.5,1160" fill="none" stroke="#000" stroke-width="1.8" stroke-dasharray="11 7"/>
<line x1="984" y1="807" x2="703" y2="1022.6" stroke="#000" stroke-width="1.9" />
<path d="M984,807 L1130.9,890.6 L1147.6,900 L1145.8,906" fill="none" stroke="#000" stroke-width="1.9" />
<path d="M979,812 L984,807 L988,810" fill="none" stroke="#000" stroke-width="1.6" />
<circle cx="997" cy="816" r="1.9"/>
<circle cx="1011.9" cy="825.5" r="1.9"/>
<circle cx="1028.6" cy="834.8" r="1.9"/>
<circle cx="1047.3" cy="849.7" r="1.9"/>
<circle cx="1060.2" cy="851.6" r="1.9"/>
<circle cx="1077" cy="860.9" r="1.9"/>
<circle cx="1091.8" cy="870.2" r="1.9"/>
<circle cx="1106.7" cy="879.5" r="1.9"/>
<circle cx="1123.5" cy="888.8" r="1.9"/>
<circle cx="1010" cy="834.8" r="1.9"/>
<circle cx="1026.8" cy="844.1" r="1.9"/>
<circle cx="1060.2" cy="864.6" r="1.9"/>
<circle cx="1078.8" cy="873.9" r="1.9"/>
<circle cx="1141" cy="897" r="1.9"/>
<ellipse cx="1050" cy="859" rx="3" ry="2" fill="none" stroke="#000" stroke-width="1.4"/>
<line x1="1131" y1="892" x2="727.5" y2="1215" stroke="#000" stroke-width="1.9" />
<line x1="1147.6" y1="903" x2="862.5" y2="1170" stroke="#000" stroke-width="1.9" />
<circle cx="1136.8" cy="910.6" r="1.8"/>
<circle cx="1117" cy="929.4" r="1.8"/>
<circle cx="1097.2" cy="947.4" r="1.8"/>
<circle cx="1078.3" cy="966.2" r="1.8"/>
<circle cx="1058.5" cy="984.2" r="1.8"/>
<circle cx="1038.7" cy="1003" r="1.8"/>
<circle cx="1018.9" cy="1020.9" r="1.8"/>
<circle cx="998.1" cy="1041.7" r="1.8"/>
<circle cx="976.4" cy="1062.5" r="1.8"/>
<circle cx="910" cy="1126.25" r="1.8"/>
<circle cx="887.5" cy="1148.75" r="1.8"/>
<circle cx="866.25" cy="1168.75" r="1.8"/>
<path d="M970.8,1061.5 L978.3,1064.3 L866,1175 L862.5,1170" fill="none" stroke="#000" stroke-width="1.6" />
<line x1="1099" y1="929.7" x2="1179" y2="976" stroke="#000" stroke-width="1.8" />
<line x1="1044" y1="822" x2="1044" y2="1068" stroke="#000" stroke-width="1.4" stroke-dasharray="2.5 2"/>
<path d="M1040,1070 L1046,1066 L1052,1072 L1060,1074 L1062,1080 L1050,1083 L1042,1080 Z" fill="none" stroke="#000" stroke-width="1.8" />
<circle cx="1060" cy="1077" r="2"/>
<path d="M1111,1050 C1085,1050 1068,1060 1063,1075" fill="none" stroke="#000" stroke-width="1.8" />
<line x1="793" y1="1020" x2="793" y2="1280" stroke="#000" stroke-width="1.5" stroke-dasharray="3 2"/>
<circle cx="793" cy="1030" r="2.2"/>
<line x1="793" y1="1018" x2="793" y2="1036" stroke="#000" stroke-width="2" />
<path d="M826,1036 C810,1036 800,1032 793,1029" fill="none" stroke="#000" stroke-width="1.6" />
<line x1="857.5" y1="1068" x2="857.5" y2="1280" stroke="#000" stroke-width="1.6" />
<path d="M855,1037.5 C872,1040 875,1062 857.5,1070" fill="none" stroke="#000" stroke-width="1.6" />
<circle cx="857.5" cy="1080" r="2.2"/>
<circle cx="872.5" cy="983.75" r="2"/>
<circle cx="886.25" cy="991.25" r="2"/>
<circle cx="912.5" cy="1007.5" r="2"/>
<circle cx="755" cy="1012.5" r="2"/>
<circle cx="835" cy="1012.5" r="2"/>
<circle cx="850" cy="1021.25" r="2"/>
<circle cx="763.75" cy="1026.25" r="2"/>
<circle cx="778.75" cy="1058.75" r="2"/>
<circle cx="841.25" cy="1071.25" r="2"/>
<circle cx="746.25" cy="1168.75" r="2"/>
<circle cx="883" cy="947" r="2"/>
<circle cx="897" cy="954" r="2"/>
<circle cx="925" cy="965" r="2"/>
<circle cx="850" cy="940" r="2"/>
<circle cx="832" cy="978" r="2"/>
<circle cx="845" cy="983" r="2"/>
<path d="M885,1100 C882,1093 887,1089 893,1092 C897,1095 897,1104 892,1106 C889,1107 886,1105 885,1100 Z" fill="none" stroke="#000" stroke-width="1.6" />
<circle cx="898.5" cy="1096" r="1.6"/><circle cx="881" cy="1099.5" r="1.6"/><circle cx="898.75" cy="1086" r="1.6"/>
<line x1="900" y1="1097.5" x2="1100" y2="1210" stroke="#000" stroke-width="1.8" />
<path d="M850,1180 L995,1263.75 L995,1197" fill="none" stroke="#000" stroke-width="1.8" />
<line x1="995" y1="1195" x2="995" y2="1212" stroke="#000" stroke-width="2.2" />
<path d="M970,1195 C972,1205 980,1210 993,1207" fill="none" stroke="#000" stroke-width="1.6" />
<path d="M634,1073 L290,1312" fill="none" stroke="#000" stroke-width="1.8" />
<path d="M634,1073 L290,1312" fill="none" stroke="#000" stroke-width="3.6" stroke-dasharray="20 9"/>
<path d="M700,1037 L296,1320" fill="none" stroke="#000" stroke-width="1.8" />
<circle cx="541.25" cy="1138.75" r="2.6" fill="none" stroke="#000" stroke-width="1.5"/>
<circle cx="458.75" cy="1196.25" r="2.6" fill="none" stroke="#000" stroke-width="1.5"/>
<circle cx="416.25" cy="1225" r="2.6" fill="none" stroke="#000" stroke-width="1.5"/>
<circle cx="333.75" cy="1281.25" r="2.6" fill="none" stroke="#000" stroke-width="1.5"/>
<circle cx="599" cy="1097" r="2.6" fill="none" stroke="#000" stroke-width="1.5"/>
<circle cx="624.4" cy="1080.1" r="3.2"/>
<path d="M698.9,1026.4 L634.2,1069.2 L636.4,1076.8 L698.9,1030.5 Z" fill="#000" stroke="#000" stroke-width="1.2" />
<path d="M640,1069 L643,1072 M647,1064 L650,1067 M654,1059 L657,1062 M661,1054 L664,1057 M668,1049 L671,1052 M675,1044 L678,1047 M682,1039 L685,1042" fill="none" stroke="#000" stroke-width="1.6" style="stroke:#fff"/>
<path d="M371.3,1333.4 L408.6,1354.7 L403.3,1358.5 L366.0,1337.2 Z" fill="none" stroke="#000" stroke-width="1.9" />
<path d="M383.4,1325.6 L420.7,1346.8 L415.4,1350.6 L378.1,1329.4 Z" fill="none" stroke="#000" stroke-width="1.9" />
<path d="M395.5,1317.7 L432.8,1339.0 L427.5,1342.8 L390.2,1321.5 Z" fill="none" stroke="#000" stroke-width="1.9" />
<path d="M407.6,1309.9 L444.9,1331.1 L439.6,1334.9 L402.3,1313.7 Z" fill="none" stroke="#000" stroke-width="1.9" />
<path d="M419.7,1302.0 L457.0,1323.3 L451.7,1327.1 L414.4,1305.8 Z" fill="none" stroke="#000" stroke-width="1.9" />
<path d="M431.8,1294.2 L469.1,1315.4 L463.8,1319.2 L426.5,1298.0 Z" fill="none" stroke="#000" stroke-width="1.9" />
<path d="M443.9,1286.3 L484.9,1309.7 L479.6,1313.5 L438.6,1290.1 Z" fill="none" stroke="#000" stroke-width="1.9" />
<path d="M468.1,1270.6 L505.4,1291.9 L500.1,1295.7 L462.8,1274.4 Z" fill="none" stroke="#000" stroke-width="1.9" />
<path d="M480.2,1262.8 L517.5,1284.0 L512.2,1287.8 L474.9,1266.5 Z" fill="none" stroke="#000" stroke-width="1.9" />
<path d="M492.3,1254.9 L529.6,1276.2 L524.3,1280.0 L487.0,1258.7 Z" fill="none" stroke="#000" stroke-width="1.9" />
<path d="M504.4,1247.1 L541.7,1268.3 L536.4,1272.1 L499.1,1250.9 Z" fill="none" stroke="#000" stroke-width="1.9" />
<path d="M516.5,1239.2 L553.8,1260.5 L548.5,1264.3 L511.2,1243.0 Z" fill="none" stroke="#000" stroke-width="1.9" />
<path d="M528.6,1231.4 L565.9,1252.6 L560.6,1256.4 L523.3,1235.2 Z" fill="none" stroke="#000" stroke-width="1.9" />
<path d="M450,1283 L456,1279 L462,1283 L456,1287 Z" fill="none" stroke="#000" stroke-width="1.8" />
<circle cx="459.5" cy="1280" r="1.8" fill="none" stroke="#000" stroke-width="1.5"/>
<path d="M480,1300 L486,1296 L492,1300 L486,1304 Z" fill="none" stroke="#000" stroke-width="1.8" />
<circle cx="490" cy="1297" r="1.8" fill="none" stroke="#000" stroke-width="1.5"/>
<path d="M483,1224 L488,1210 L494,1204 L505,1202 L512,1206 L518,1212 L521,1222 L515,1230 L510,1236 L500,1240 L492,1237 L486,1232 Z" fill="none" stroke="#000" stroke-width="1.6" />
<path d="M538,1201 L542,1190 L551,1184 L560,1183 L567,1188 L571,1196 L576,1206 L570,1213 L560,1219 L552,1220 L545,1214 L540,1208 Z" fill="none" stroke="#000" stroke-width="1.6" />
<line x1="500" y1="1207" x2="500" y2="1225" stroke="#000" stroke-width="1.6" />
<circle cx="500" cy="1224" r="2.6"/>
<line x1="553.75" y1="1187" x2="553.75" y2="1217" stroke="#000" stroke-width="1.6" />
<circle cx="553.75" cy="1198" r="2.4"/>
<path d="M467,1255 C480,1255 490,1245 500,1227" fill="none" stroke="#000" stroke-width="1.6" />
<path d="M545,1302 C570,1300 578,1270 575,1240 C573,1225 567,1215 556,1203" fill="none" stroke="#000" stroke-width="1.6" />
<circle cx="511" cy="1195" r="1.7"/>
<circle cx="513" cy="1200" r="1.7"/>
<circle cx="448" cy="1277" r="1.7"/>
<circle cx="498" cy="1220" r="1.7"/>
<line x1="690.9" y1="1266.6" x2="520" y2="1379.4" stroke="#000" stroke-width="1.8" />
<line x1="655.8" y1="1271" x2="520" y2="1357.5" stroke="#000" stroke-width="1.6" />
<path d="M550.7,1347.6 L574.8,1335.6 M583.5,1327.9 L605.5,1315.9 M626.3,1298.3 L661.3,1278.6 M520,1365 L535,1356" fill="none" stroke="#000" stroke-width="3.2" />
<path d="M625.2,1290.7 L655.8,1271 M550.7,1338.9 L562.7,1331.2 M574.8,1322.4 L589,1314.8" fill="none" stroke="#000" stroke-width="1.6" />
<circle cx="633.9" cy="1289" r="2"/><circle cx="646.5" cy="1280.8" r="2"/>
<path d="M662.4,1279.7 L575.9,1392" fill="none" stroke="#000" stroke-width="3" />
<path d="M690.9,1266.6 L597.8,1390 L582,1407 Q576,1410 575,1402 L575.9,1392" fill="none" stroke="#000" stroke-width="1.9" />
<path d="M546.3,1313.7 L547.4,1361.9 L533.1,1353.1" fill="none" stroke="#000" stroke-width="1.4" />
<path d="M546.3,1313.7 L558,1320" fill="none" stroke="#000" stroke-width="1.4" />
<path d="M561.6,1321.3 L581.3,1333.4" fill="none" stroke="#000" stroke-width="2.6" />
<path d="M585.7,1298.3 C572,1300 565,1310 567,1325.7" fill="none" stroke="#000" stroke-width="1.6" />
<path d="M613.75,1240 L620,1235 L677.5,1232.5 L692.5,1247.5 L690,1262.5 L677.5,1270 L640,1272.5 L625,1265 Z" fill="none" stroke="#000" stroke-width="2.6" />
<path d="M622,1242 L675,1238 L688,1250 M640,1246 C650,1240 665,1242 668,1250 C668,1258 650,1260 642,1255 Z" fill="none" stroke="#000" stroke-width="1.6" />
<path d="M655,1265 L668,1258 L688,1256 M660,1262 L662,1270 M670,1260 L672,1268 M680,1258 L682,1266" fill="none" stroke="#000" stroke-width="2.4" />
<circle cx="648" cy="1245" r="2.2"/><circle cx="634" cy="1260" r="1.8"/>
<path d="M697.5,1247.5 L700,1240 L807.5,1210 L822.5,1217.5 L792.5,1250 L700,1261.25 Z" fill="none" stroke="#000" stroke-width="2" />
<path d="M703,1250 L712,1243 L722,1247 L732,1239 L745,1243 L755,1236 L768,1240 L778,1233 L805,1225 L790,1243 L705,1255 Z" fill="none" stroke="#000" stroke-width="1.5" />
<circle cx="730" cy="1226" r="2.3"/>
<circle cx="745" cy="1222" r="2.3"/>
<circle cx="760" cy="1221" r="2.3"/>
<circle cx="767" cy="1224" r="2.3"/>
<circle cx="775" cy="1220" r="2.3"/>
<circle cx="785" cy="1219" r="2.3"/>
<circle cx="797" cy="1217" r="2.3"/>
<circle cx="810" cy="1215" r="2.3"/>
<circle cx="715" cy="1231" r="2.3"/>
<circle cx="742" cy="1228" r="2.3"/>
<circle cx="763.5" cy="1264" r="4.5" fill="none" stroke="#000" stroke-width="3"/><circle cx="763.5" cy="1264" r="1.5"/>
<path d="M776.3,1351.2 L820.6,1314.8 L825.4,1315.6 L827,1321.1 L791.4,1357.5 L784.2,1356.7 Z" fill="none" stroke="#000" stroke-width="2" />
<path d="M821,1314.5 L853.9,1302.5 M861.4,1299.8 L868.9,1297 L880,1308.5 L879,1313 L864.9,1325.9 L858.6,1326.7 L854.7,1323.5 L838,1325.9 L827,1315.6" fill="none" stroke="#000" stroke-width="2" />
<path d="M869,1299 L878,1309" fill="none" stroke="#000" stroke-width="1.3" />
<path d="M814.3,1337 L853.9,1325.9 M825.4,1321.9 L814.3,1337" fill="none" stroke="#000" stroke-width="1.8" />
<path d="M840,1309 Q845,1306 853,1306 L853,1312 L842,1312 Q838,1311 840,1309 Z" fill="none" stroke="#000" stroke-width="1.8" />
<circle cx="836.9" cy="1318.4" r="1.9"/>
<circle cx="849.9" cy="1318.4" r="1.9"/>
<circle cx="857" cy="1318.8" r="1.9"/>
<circle cx="864.9" cy="1318.8" r="1.9"/>
<circle cx="821.8" cy="1320.7" r="1.9"/>
<line x1="857.8" y1="1280" x2="857.8" y2="1318" stroke="#000" stroke-width="1.5" />
<path d="M833.3,1360.7 C815,1361 806,1355 804,1347.2" fill="none" stroke="#000" stroke-width="1.6" />
<path d="M840.4,1187.7 L816,1212 M840.4,1198.4 L825.8,1213" fill="none" stroke="#000" stroke-width="1.8" />
<circle cx="889" cy="1148.3" r="2"/>
<circle cx="866.2" cy="1169.2" r="2"/>
<circle cx="837.4" cy="1197.4" r="2"/>
<circle cx="826.7" cy="1208.2" r="2"/>
<circle cx="829" cy="1227" r="2"/>
<circle cx="866" cy="1226" r="2"/>
<circle cx="830" cy="1222" r="2"/>
<line x1="844.8" y1="1186.7" x2="844.8" y2="1225.7" stroke="#000" stroke-width="1.4" stroke-dasharray="2 1.5"/>
<line x1="857.9" y1="1206" x2="857.9" y2="1225.7" stroke="#000" stroke-width="1.6" />
<path d="M866.7,1177 L872,1188 L875,1192 M871,1198 L877,1215 L879,1222 M874,1200 L879,1218" fill="none" stroke="#000" stroke-width="1.8" />
<path d="M838,1208 L840,1204 M848,1200 L851,1196 M849,1214 L853,1212 M838,1219 L846,1219 M850,1221 L856,1221" fill="none" stroke="#000" stroke-width="2" />
<path d="M233.7,1346.9 L245.6,1342.7 L261,1335 L276.4,1325.2 L286.2,1314 L293.2,1309.8" fill="none" stroke="#000" stroke-width="2" />
<path d="M233,1350.4 L240,1346.2 L254,1344.8 L248.4,1360.2 L235.8,1364.4 L233,1358.8 Z" fill="none" stroke="#000" stroke-width="2" />
<circle cx="238.6" cy="1353.9" r="2.2"/>
<path d="M225.3,1400.8 C219,1392 216,1384 216.9,1378.4 C217,1370 222,1363 228.8,1360.2 L233.7,1358.1" fill="none" stroke="#000" stroke-width="2" />
<path d="M232.3,1358.8 L228.8,1378.4 L226,1392.4 L222.5,1402.2" fill="none" stroke="#000" stroke-width="2" />
<path d="M222.5,1402.2 C220,1406 220,1410 221,1412 L219,1424 L216,1434 L212,1446 L205,1455 L203.6,1463 L198,1465.2 L183.3,1475 L200.8,1488.3 L226,1475 L254,1461 L279.2,1448.4 L286.9,1440 L284.8,1433 L276.4,1424.6 L272.2,1420.4 L268,1410.6 L262.4,1400.8" fill="none" stroke="#000" stroke-width="2" />
<path d="M183.3,1475 L198,1465.2 L205,1470.8 L206.4,1484.8 M192,1468 L197,1484 M190,1478 L204,1472" fill="none" stroke="#000" stroke-width="1.7" />
<path d="M252.6,1382.6 C249,1378 252,1368 256.8,1364.4 L282,1349 C288,1346 294,1347 296,1349 C300,1351 302,1356 297.4,1361.6 L270.8,1384 C266,1386 262,1386 259.6,1385.4 Z" fill="none" stroke="#000" stroke-width="2.6" />
<path d="M241.4,1388.2 L247,1384 L254,1389.6 L261,1398 L259.6,1400.8 L248.4,1396.6 L242.8,1392.4 Z" fill="none" stroke="#000" stroke-width="1.8" />
<path d="M241.4,1388 L252,1380 M298,1344 L312,1333" fill="none" stroke="#000" stroke-width="1.8" />
<path d="M268,1403.6 L282,1391 C288,1386 292,1383 296,1382.6 L310,1379.8 L318.4,1379.8 C322,1381 324,1383 326.8,1385.4 L335.2,1392.4 L342.2,1393.8" fill="none" stroke="#000" stroke-width="2" />
<path d="M336.6,1386.8 L342.2,1393.8 L371.6,1370 L363.2,1363 M340,1389 L360,1372 M345,1372 L358,1385" fill="none" stroke="#000" stroke-width="1.8" />
<path d="M318.4,1350 L328,1350 C335,1352 340,1356 345,1364 L348,1372 L346,1380 L342.2,1393.8" fill="none" stroke="#000" stroke-width="1.8" />
<path d="M345,1364 L352,1372 L356,1382 M342,1358 L350,1360" fill="none" stroke="#000" stroke-width="1.6" />
<path d="M290.4,1322 L296,1319.6 L320,1320 L334,1325 L343.6,1330 L340,1337.8 L325,1334 L310,1330 L300,1328 Z" fill="none" stroke="#000" stroke-width="1.6" />
<path d="M316,1334 L328,1338 L322,1342" fill="none" stroke="#000" stroke-width="1.5" />
<ellipse cx="272" cy="1427" rx="3.2" ry="4.5" transform="rotate(-30 272 1427)" fill="none" stroke="#000" stroke-width="2"/><ellipse cx="280" cy="1437" rx="3.2" ry="4.5" transform="rotate(-30 280 1437)" fill="none" stroke="#000" stroke-width="2"/>
<circle cx="272" cy="1427" r="1.5"/><circle cx="280" cy="1437" r="1.5"/>
<path d="M322.5,1337.5 L435,1400 L452.5,1416" fill="none" stroke="#000" stroke-width="1.8" />
<circle cx="262" cy="1339" r="2"/>
<circle cx="233" cy="1378" r="2"/>
<circle cx="230" cy="1389" r="2"/>
<circle cx="224" cy="1422" r="2"/>
<circle cx="221" cy="1434" r="2"/>
<circle cx="216" cy="1445" r="2"/>
<circle cx="244" cy="1402" r="2"/>
<circle cx="240" cy="1436" r="2"/>
<circle cx="245" cy="1458" r="2"/>
<circle cx="262" cy="1415" r="2"/>
<circle cx="280" cy="1393" r="2"/>
<circle cx="210" cy="1474" r="2"/>
<circle cx="330" cy="1347" r="2"/>
<circle cx="343" cy="1357" r="2"/>
<circle cx="308" cy="1325" r="2"/>
<circle cx="284" cy="1313" r="2"/>
<circle cx="293" cy="1318" r="2"/>
<circle cx="339" cy="1355" r="2"/>
<path d="M532,1414.3 L554.8,1396.1 C560,1394 565,1398 567,1402.2 L568.5,1411.3 L548.7,1438.7 C545,1441 541,1441 539.6,1440.2 L532,1429.6 Z" fill="none" stroke="#000" stroke-width="2" />
<path d="M535,1416 L555,1400 L564,1404 L565,1411 L547,1435 L541,1436 L535,1428 Z" fill="none" stroke="#000" stroke-width="1.3" />
<circle cx="545.7" cy="1414.3" r="2.2"/><circle cx="554.8" cy="1414.3" r="2.2"/><circle cx="551.7" cy="1425" r="2.2"/>
<path d="M430,1368 C428,1362 435,1358 442,1357 C450,1356 458,1358 460,1362 C461,1366 455,1368 452,1370 L455,1374 C448,1376 438,1376 432,1373 Z" fill="none" stroke="#000" stroke-width="1.8" />
<path d="M432,1380 L438,1377 L441,1381 L435,1384 Z" fill="none" stroke="#000" stroke-width="1.5" />
<circle cx="395" cy="1373" r="1.9"/>
<circle cx="379" cy="1354" r="1.9"/>
<circle cx="418" cy="1348" r="1.9"/>
<circle cx="489" cy="1340" r="1.9"/>
<circle cx="507" cy="1337" r="1.9"/>
<circle cx="460" cy="1393" r="1.9"/>
<circle cx="478" cy="1402" r="1.9"/>
<circle cx="500" cy="1386" r="1.9"/>
<circle cx="512" cy="1398" r="1.9"/>
<circle cx="390" cy="1385" r="1.9"/>
<circle cx="404" cy="1399" r="1.9"/>
<path d="M315,1367.5 L315,1410 L292.5,1422.5 L292.5,1560" fill="none" stroke="#000" stroke-width="1.7" />
<circle cx="264" cy="1340" r="1.9"/>
<circle cx="238" cy="1378" r="1.9"/>
<circle cx="228" cy="1395" r="1.9"/>
<circle cx="222" cy="1412" r="1.9"/>
<circle cx="218" cy="1432" r="1.9"/>
<circle cx="212" cy="1446" r="1.9"/>
<circle cx="245" cy="1400" r="1.9"/>
<circle cx="248" cy="1430" r="1.9"/>
<circle cx="245" cy="1455" r="1.9"/>
<circle cx="262" cy="1438" r="1.9"/>
<circle cx="262" cy="1410" r="1.9"/>
<circle cx="212" cy="1458" r="1.9"/>
<circle cx="230" cy="1474" r="1.9"/>
<circle cx="300" cy="1340" r="1.9"/>
<circle cx="306" cy="1329" r="1.9"/>
<circle cx="271" cy="1325" r="1.9"/>
<circle cx="285" cy="1335" r="1.9"/>
<circle cx="328" cy="1345" r="1.9"/>
<circle cx="343" cy="1357" r="1.9"/>
<line x1="222.5" y1="1522.5" x2="435" y2="1400" stroke="#000" stroke-width="1.8" />
<path d="M198,1531 L206,1520 L214,1516 L217,1520 L209,1533 L200,1537 Z" fill="none" stroke="#000" stroke-width="1.8" />
<circle cx="206" cy="1527" r="2.2" fill="none" stroke="#000" stroke-width="1.5"/>
<path d="M212,1571 C222,1569 228,1560 226,1550 C224,1540 218,1533 211,1530" fill="none" stroke="#000" stroke-width="1.6" />
<path d="M333,1537 L339,1537 L339,1547 L333,1547 Z" fill="#000" stroke="#000" stroke-width="1.5" />
<ellipse cx="336" cy="1549.5" rx="4.5" ry="2.5"/>
<path d="M333,1556 C333,1566 337,1572 338,1578" fill="none" stroke="#000" stroke-width="1.6" />
<path d="M398,1447 L399.6,1453.3 L396.4,1469.1 L394.8,1478.6 L393.2,1492.9 L391.7,1500.8 L386.9,1504 L383.7,1532.4 L374.2,1548.3 L369.5,1564.1 L369.5,1579.9 L386.9,1595.7 L398,1592.6 L437.5,1573.6 L448.6,1567.3 L467.6,1564.1 L530.9,1562.5 L549.9,1554.6 L573.6,1532.4 L591,1516.6 L597.4,1508.7 L600.5,1507.9" fill="none" stroke="#000" stroke-width="2.2" />
<path d="M396.4,1432.7 L423.3,1418.5 L428,1420.1 L413.8,1445.4 L398,1447 L394.8,1442.2 Z" fill="none" stroke="#000" stroke-width="2" />
<path d="M398,1440 L420,1426 M413.8,1445.4 L410,1437" fill="none" stroke="#000" stroke-width="1.6" />
<circle cx="403" cy="1436.5" r="2"/><circle cx="410" cy="1436" r="2"/>
<path d="M426,1425 L433,1416 L447,1403 L450,1406 L440,1422" fill="none" stroke="#000" stroke-width="1.8" />
<ellipse cx="446" cy="1431" rx="12" ry="16" transform="rotate(30 446 1431)" fill="none" stroke="#000" stroke-width="1.8"/>
<ellipse cx="444" cy="1426" rx="8" ry="11" transform="rotate(30 444 1426)" fill="none" stroke="#000" stroke-width="2"/>
<circle cx="444.5" cy="1424" r="2"/><circle cx="437" cy="1433" r="2"/><circle cx="452" cy="1416" r="1.8"/>
<path d="M428,1491.3 L436,1475.5 L483.4,1461.2 L502.4,1462.8 L508,1472.3 L499.3,1491.3 L486.6,1503.9 L470.8,1513.4 L436,1529.3 L429.6,1526.1 L428,1516.6 Z" fill="none" stroke="#000" stroke-width="2" />
<path d="M433,1492 L440,1478 L483,1465 L500,1466 L504,1473 L497,1489 L485,1500 L470,1509 L437,1524 L433,1518 Z" fill="none" stroke="#000" stroke-width="1.5" />
<ellipse cx="445.5" cy="1496" rx="10.3" ry="15" transform="rotate(20 445.5 1496)" fill="none" stroke="#000" stroke-width="2"/>
<ellipse cx="477.1" cy="1483.4" rx="11" ry="15.8" transform="rotate(20 477.1 1483.4)" fill="none" stroke="#000" stroke-width="2"/>
<circle cx="412.2" cy="1499.2" r="4.7" fill="none" stroke="#000" stroke-width="1.8"/><circle cx="412.2" cy="1499.2" r="2"/>
<circle cx="407.5" cy="1530.8" r="6" fill="none" stroke="#000" stroke-width="1.8"/><circle cx="407.5" cy="1530.8" r="2.2"/><circle cx="413.8" cy="1532.4" r="14" fill="none" stroke="#000" stroke-width="1.6"/>
<path d="M383.7,1567.2 L434.4,1546.7 L437.5,1557.7" fill="none" stroke="#000" stroke-width="1.8" />
<path d="M369.5,1570 L380,1573 L386,1595" fill="none" stroke="#000" stroke-width="1.6" />
<path d="M396.4,1497.6 L383.7,1567.2" fill="none" stroke="#000" stroke-width="1.8" />
<path d="M466,1542 L497,1519 Q501,1518 503,1524 L472,1549 Q467,1549 466,1542 Z" fill="none" stroke="#000" stroke-width="1.8" />
<path d="M526.2,1538.8 L567.3,1505.5 C572,1503 576,1506 577,1510 L578.4,1518.2 L545.2,1546.7 C540,1549 533,1547 529.3,1543.5 Z" fill="none" stroke="#000" stroke-width="2.2" />
<path d="M531,1538 L567,1509 L573,1512 L574,1517 L545,1542 L534,1541 Z" fill="none" stroke="#000" stroke-width="1.4" />
<path d="M540.4,1472.3 L499.3,1510.3 M564.1,1496 L491.3,1560.9" fill="none" stroke="#000" stroke-width="1.7" />
<path d="M502.5,1505 L525,1500 L510,1516.25 Z" fill="#000" stroke="#000" stroke-width="1.4" />
<path d="M527,1488 L535,1510 M533,1502 L538,1498" fill="none" stroke="#000" stroke-width="1.4" />
<path d="M565.7,1491.3 L599,1508.7" fill="none" stroke="#000" stroke-width="4" />
<circle cx="406" cy="1459" r="1.9"/>
<circle cx="422" cy="1464" r="1.9"/>
<circle cx="395" cy="1490" r="1.9"/>
<circle cx="397" cy="1551" r="1.9"/>
<circle cx="386.9" cy="1577" r="1.9"/>
<circle cx="402" cy="1584" r="1.9"/>
<circle cx="428" cy="1557" r="1.9"/>
<circle cx="427" cy="1580" r="1.9"/>
<circle cx="465" cy="1546" r="1.9"/>
<circle cx="495" cy="1545" r="1.9"/>
<circle cx="520" cy="1550" r="1.9"/>
<circle cx="535" cy="1547" r="1.9"/>
<circle cx="475" cy="1561" r="1.9"/>
<circle cx="458.5" cy="1472.3" r="1.9"/>
<circle cx="498.5" cy="1474.5" r="1.9"/>
<circle cx="455.5" cy="1508" r="1.9"/>
<circle cx="545" cy="1494" r="1.9"/>
<circle cx="562" cy="1490" r="1.9"/>
<circle cx="490" cy="1392" r="1.9"/>
<circle cx="475" cy="1398" r="1.9"/>
<circle cx="506" cy="1394" r="1.9"/>
<circle cx="538" cy="1546" r="1.9"/>
<circle cx="553" cy="1548" r="1.9"/>
<circle cx="422" cy="1563" r="1.9"/>
<circle cx="388" cy="1530" r="1.9"/>
<circle cx="382" cy="1545" r="1.9"/>
<line x1="452.5" y1="1416.25" x2="675" y2="1545" stroke="#000" stroke-width="1.6" />
<path d="M658,1534 L667,1541" fill="none" stroke="#000" stroke-width="3" />
<path d="M637.5,1572.5 C655,1572 663,1560 662.5,1542" fill="none" stroke="#000" stroke-width="1.6" />
<line x1="622" y1="1431" x2="786" y2="1667" stroke="#000" stroke-width="1.6" />
<path d="M611,1467.5 C628,1462 633,1448 622,1432" fill="none" stroke="#000" stroke-width="1.4" />
<line x1="654.6" y1="1614.8" x2="877.3" y2="1445.5" stroke="#000" stroke-width="2.6" />
<line x1="650" y1="1606" x2="869" y2="1440" stroke="#000" stroke-width="1.6" />
<path d="M869,1440 L877.3,1445.5 M650,1606 Q646,1612 654.6,1614.8" fill="none" stroke="#000" stroke-width="1.6" />
<path d="M690,1577 L694,1573 L699,1576 M765,1519 L769,1515 L774,1518 M797,1500 L801,1497 L806,1500" fill="none" stroke="#000" stroke-width="1.5" />
<path d="M767.6,1559.4 C757,1559 752,1555 751,1549" fill="none" stroke="#000" stroke-width="1.6" />
<line x1="792.4" y1="1280" x2="792.4" y2="1516" stroke="#000" stroke-width="1.5" />
<line x1="705" y1="1632.5" x2="717.5" y2="1652" stroke="#000" stroke-width="1.8" />
<path d="M712,1640 L716,1643" fill="none" stroke="#000" stroke-width="3" />
<path d="M687.5,1666.25 C703,1665 712,1658 714,1644" fill="none" stroke="#000" stroke-width="1.6" />
<path d="M1179.3,1385.6 L1183.2,1383.6 L1206.6,1399.2 L1209.5,1403.1 L1210.5,1409 L1228,1479.1 L1235.8,1481 L1237.8,1486.9 L1233.9,1494.7 L1224.1,1499.5 L1216.3,1498.6 L1214.4,1504.4 L1219.3,1508.3 L1200.8,1543.4 L1194.9,1541.4 L1189.1,1541.4 L1173.5,1545.3 L1163.8,1549.2 L1157.9,1551.1 L1150.1,1545.3 L1143.3,1539.5 L1144.3,1521.9 L1150.1,1508.3 L1161.8,1496.6 L1185.2,1486.9 L1196.9,1428.4 L1187.1,1399.2 L1181.3,1389.5 Z" fill="none" stroke="#000" stroke-width="2.1" />
<path d="M1186.2,1484.9 L1208.6,1403.1" fill="none" stroke="#000" stroke-width="1.8" />
<path d="M1185.2,1494.7 L1193,1533.6" fill="none" stroke="#000" stroke-width="1.6" />
<path d="M1214.4,1504.4 L1196.9,1540" fill="none" stroke="#000" stroke-width="1.8" />
<path d="M1224.1,1499.5 L1228,1493 L1235.8,1481" fill="none" stroke="#000" stroke-width="1.5" />
<ellipse cx="1199" cy="1405" rx="1.9" ry="3" fill="#000"/>
<ellipse cx="1202" cy="1415" rx="1.9" ry="3" fill="#000"/>
<ellipse cx="1206" cy="1444" rx="1.9" ry="3" fill="#000"/>
<ellipse cx="1207" cy="1459" rx="1.9" ry="3" fill="#000"/>
<ellipse cx="1213" cy="1467" rx="1.9" ry="3" fill="#000"/>
<ellipse cx="1199" cy="1471" rx="1.9" ry="3" fill="#000"/>
<ellipse cx="1206" cy="1477" rx="1.9" ry="3" fill="#000"/>
<ellipse cx="1217" cy="1479" rx="1.9" ry="3" fill="#000"/>
<ellipse cx="1193" cy="1485" rx="1.9" ry="3" fill="#000"/>
<ellipse cx="1199" cy="1490" rx="1.9" ry="3" fill="#000"/>
<ellipse cx="1205" cy="1492" rx="1.9" ry="3" fill="#000"/>
<ellipse cx="1212" cy="1496" rx="1.9" ry="3" fill="#000"/>
<ellipse cx="1199" cy="1507" rx="1.9" ry="3" fill="#000"/>
<ellipse cx="1205" cy="1509" rx="1.9" ry="3" fill="#000"/>
<ellipse cx="1198" cy="1524" rx="1.9" ry="3" fill="#000"/>
<ellipse cx="1214" cy="1440" rx="1.9" ry="3" fill="#000"/>
<ellipse cx="1177" cy="1499" rx="2.4" ry="3.2" fill="none" stroke="#000" stroke-width="1.6" transform="rotate(20 1177 1499)"/>
<ellipse cx="1170" cy="1509" rx="2.4" ry="3.2" fill="none" stroke="#000" stroke-width="1.6" transform="rotate(20 1170 1509)"/>
<ellipse cx="1180" cy="1511" rx="2.4" ry="3.2" fill="none" stroke="#000" stroke-width="1.6" transform="rotate(20 1180 1511)"/>
<ellipse cx="1153" cy="1520" rx="2.4" ry="3.2" fill="none" stroke="#000" stroke-width="1.6" transform="rotate(20 1153 1520)"/>
<ellipse cx="1159" cy="1523" rx="2.4" ry="3.2" fill="none" stroke="#000" stroke-width="1.6" transform="rotate(20 1159 1523)"/>
<ellipse cx="1171" cy="1520" rx="2.4" ry="3.2" fill="none" stroke="#000" stroke-width="1.6" transform="rotate(20 1171 1520)"/>
<ellipse cx="1181" cy="1525" rx="2.4" ry="3.2" fill="none" stroke="#000" stroke-width="1.6" transform="rotate(20 1181 1525)"/>
<ellipse cx="1153" cy="1532" rx="2.4" ry="3.2" fill="none" stroke="#000" stroke-width="1.6" transform="rotate(20 1153 1532)"/>
<ellipse cx="1161" cy="1535" rx="2.4" ry="3.2" fill="none" stroke="#000" stroke-width="1.6" transform="rotate(20 1161 1535)"/>
<ellipse cx="1173" cy="1534" rx="2.4" ry="3.2" fill="none" stroke="#000" stroke-width="1.6" transform="rotate(20 1173 1534)"/>
<ellipse cx="1183" cy="1537" rx="2.4" ry="3.2" fill="none" stroke="#000" stroke-width="1.6" transform="rotate(20 1183 1537)"/>
<ellipse cx="1147" cy="1527" rx="2.4" ry="3.2" fill="none" stroke="#000" stroke-width="1.6" transform="rotate(20 1147 1527)"/>
<circle cx="1158" cy="1507" r="1.8"/>
<path d="M1129.7,1574.5 C1145,1574 1154,1565 1156,1550.2" fill="none" stroke="#000" stroke-width="1.6" />
<line x1="1159.9" y1="1542.4" x2="1186.2" y2="1559.9" stroke="#000" stroke-width="1.5" />
<circle cx="1159.9" cy="1542.4" r="1.8"/>
<path d="M1186.2,1559.9 L1196.9,1564.8" fill="none" stroke="#000" stroke-width="5" />
<circle cx="1196" cy="1564" r="3.3" fill="none" stroke="#000" stroke-width="1.5"/>
<path d="M1129.7,1616.4 C1165,1615 1190,1595 1193,1566.7" fill="none" stroke="#000" stroke-width="1.6" />
<path d="M1247.5,1432.3 L1251.4,1443" fill="none" stroke="#000" stroke-width="4.5" />
<circle cx="1247.5" cy="1433" r="2.8"/>
<path d="M1251.4,1444 L1256.3,1454.7 L1231.9,1473.2" fill="none" stroke="#000" stroke-width="1.6" />
<path d="M1326.4,1414.8 C1290,1415 1265,1420 1249.5,1432.3" fill="none" stroke="#000" stroke-width="1.6" />
<path d="M1210.5,1549.2 L1233.9,1545.3 L1214.4,1558.9 Z" fill="#000" stroke="#000" stroke-width="1" />
<path d="M1235.8,1555 L1241.7,1554.1 L1245.6,1535.6 L1253.4,1531.7 L1262.1,1532.6 L1264.1,1541.4 L1257.3,1545.3 L1251.4,1555 L1245.6,1558.9 L1237.8,1559.9 Z" fill="none" stroke="#000" stroke-width="1.5" stroke-dasharray="4 2"/>
<path d="M1246,1545 C1250,1540 1244,1538 1248,1536" fill="none" stroke="#000" stroke-width="1.4" />
<line x1="1233.9" y1="1530.7" x2="1241.7" y2="1553.1" stroke="#000" stroke-width="1.5" />
<line x1="1237.8" y1="1490.8" x2="1253.4" y2="1537.5" stroke="#000" stroke-width="1.6" />
<line x1="1243.6" y1="1560.9" x2="1284.5" y2="1668" stroke="#000" stroke-width="1.6" />
<circle cx="1253.4" cy="1537.5" r="1.6"/><circle cx="1241.7" cy="1553.1" r="1.6"/>
<path d="M1259.2,1551.1 L1268.9,1574.5 L1294.3,1556 L1302,1574.5" fill="none" stroke="#000" stroke-width="1.6" />
<path d="M1296.2,1570.6 L1312.8,1574.5 L1304,1582.3 L1297.2,1580.4 Z" fill="none" stroke="#000" stroke-width="1.8" />
<path d="M1298,1572 L1306,1575 L1302,1580 Z" fill="#000" stroke="#000" stroke-width="1" />
<path d="M1326.4,1600.8 C1312,1600 1305,1594 1302,1582.3" fill="none" stroke="#000" stroke-width="1.6" />
<line x1="1284.5" y1="1592" x2="1296.2" y2="1584.3" stroke="#000" stroke-width="1.5" />
<path d="M1181.3,1642.7 L1185.2,1634.9 L1200.8,1621.3 L1239.7,1592 L1249.5,1588.2 L1259.2,1590.1 L1263.1,1592 L1276.7,1592 L1286.5,1595.9 L1282.6,1601.7 L1267,1611.5 L1267,1619.4 L1249.5,1629.1 L1228,1644.6 L1212.4,1654.4 L1200.8,1660.2 L1189.1,1658.3 L1181.3,1652.4 L1179.3,1646.6 Z" fill="none" stroke="#000" stroke-width="2.1" />
<path d="M1191,1646.6 L1220.2,1623.2 L1249.5,1595.9 L1253.4,1603.7 L1257.3,1619.4 L1228,1640.7 L1206.6,1650.5 L1194.9,1650.5 Z" fill="none" stroke="#000" stroke-width="1.8" />
<path d="M1249.5,1596 L1256,1594 L1266,1600 L1262,1612" fill="none" stroke="#000" stroke-width="1.6" />
<path d="M1268,1597 L1276,1594 L1280,1599 L1272,1604 Z" fill="#000" stroke="#000" stroke-width="1" />
<path d="M1228,1640.7 L1260,1620 M1232,1644 L1264,1622" fill="none" stroke="#000" stroke-width="1.4" />
<circle cx="1187" cy="1649" r="1.8"/><circle cx="1221" cy="1647" r="1.8"/>
<path d="M1129.7,1657.3 C1155,1657 1172,1655 1177.4,1648.5" fill="none" stroke="#000" stroke-width="1.6" />
<path d="M1277,1646 L1281,1657" fill="none" stroke="#000" stroke-width="3" />
<line x1="1276" y1="1640" x2="1285" y2="1668" stroke="#000" stroke-width="1.5" />
<path d="M1326.4,1641.7 C1300,1642 1285,1645 1278.7,1651.5" fill="none" stroke="#000" stroke-width="1.6" />
<path d="M510.9,876 L514.4,860.6 L518.6,853.6 L526.3,846.6 L525.6,838.2 L528.4,835.4 L539.6,834.7 L546.6,836.1 L553.6,843.8 L557.1,855 L555,866.2 L548,876 L542.4,880.2 Z" fill="none" stroke="#000" stroke-width="2" />
<path d="M520,856 L543.8,878.8 M524,853 L548,872 M528,850 L552,866 M530,846 L555,860" fill="none" stroke="#000" stroke-width="2" />
<path d="M527,840 L553,848" fill="none" stroke="#000" stroke-width="4" />
<path d="M526.5,846 L553,852" fill="none" stroke="#000" stroke-width="2.4" />
<line x1="532.6" y1="884.4" x2="532.6" y2="900" stroke="#000" stroke-width="1.6" />
<path d="M468.2,829.1 C470,850 490,862 513.7,864.1" fill="none" stroke="#000" stroke-width="1.6" />
<line x1="567.6" y1="871.8" x2="567.6" y2="890" stroke="#000" stroke-width="2" />
<path d="M565.5,881 L567.6,878 L569.7,881 L567.6,886 Z" fill="#000" stroke="#000" stroke-width="1" />
<line x1="567.6" y1="890" x2="567.6" y2="905" stroke="#000" stroke-width="1.4" stroke-dasharray="2 2"/>
<path d="M597,831.9 C603,860 590,878 569,883" fill="none" stroke="#000" stroke-width="1.6" />
<line x1="633.4" y1="875.3" x2="648.8" y2="898.4" stroke="#000" stroke-width="1.8" />
<path d="M644,889 L648,894" fill="none" stroke="#000" stroke-width="3" />
<path d="M659.3,834.7 C660,865 650,878 637.6,880.2" fill="none" stroke="#000" stroke-width="1.6" />
<path d="M756.25,946.25 C770,945 785,955 787.5,971.25" fill="none" stroke="#000" stroke-width="1.6" />
<line x1="818.75" y1="818" x2="841" y2="846" stroke="#000" stroke-width="1.6" />
<line x1="982.1" y1="771.6" x2="982.1" y2="800" stroke="#000" stroke-width="1.8" />
<path d="M980,784.6 L982.1,781 L984.2,784.6 L982.1,788 Z" fill="#000" stroke="#000" stroke-width="1" />
<line x1="982.1" y1="800" x2="982.1" y2="818" stroke="#000" stroke-width="1.4" stroke-dasharray="2 2"/>
<path d="M948.7,808.8 C965,808 976,800 978.4,792" fill="none" stroke="#000" stroke-width="1.6" />
<path d="M1034.2,766 L1041.6,764.2 L1197.8,847.8 L1199.7,855.3 L1186.7,868.3 L1181.1,862.7 L1179.2,851.6 L1041.6,780.9 L1034.2,782.8 Z" fill="none" stroke="#000" stroke-width="2" />
<path d="M1041.6,770 L1190,849 L1197.8,847.8" fill="none" stroke="#000" stroke-width="1.4" />
<path d="M1179.2,851.6 L1186,852 L1192,857 L1186.7,868.3" fill="none" stroke="#000" stroke-width="1.6" />
<path d="M1034.2,782.8 L1036,770 M1041.6,780.9 L1041.6,770" fill="none" stroke="#000" stroke-width="1.4" />
<circle cx="1045.0" cy="773.0" r="1.6"/>
<circle cx="1057.1" cy="779.5" r="1.6"/>
<circle cx="1069.2" cy="786.1" r="1.6"/>
<circle cx="1081.3" cy="792.6" r="1.6"/>
<circle cx="1093.4" cy="799.2" r="1.6"/>
<circle cx="1105.5" cy="805.7" r="1.6"/>
<circle cx="1117.5" cy="812.3" r="1.6"/>
<circle cx="1129.6" cy="818.8" r="1.6"/>
<circle cx="1141.7" cy="825.4" r="1.6"/>
<circle cx="1153.8" cy="831.9" r="1.6"/>
<circle cx="1165.9" cy="838.5" r="1.6"/>
<circle cx="1178.0" cy="845.0" r="1.6"/>
<circle cx="1190" cy="857" r="1.6"/><circle cx="1186" cy="863" r="1.6"/>
<path d="M1085,797 L1092,793 L1095,798" fill="none" stroke="#000" stroke-width="1.5" />
<line x1="1039.8" y1="747.4" x2="1039.8" y2="767.9" stroke="#000" stroke-width="1.6" />
<line x1="1039.8" y1="747.4" x2="989.6" y2="807" stroke="#000" stroke-width="1.6" />
<path d="M1123.4,764.2 C1105,764 1095,772 1091.8,784.6" fill="none" stroke="#000" stroke-width="1.6" />
<line x1="1045.4" y1="808.8" x2="1045.4" y2="830" stroke="#000" stroke-width="1.8" />
<path d="M1043.3,820 L1045.4,816.5 L1047.5,820 L1045.4,823.5 Z" fill="#000" stroke="#000" stroke-width="1" />
<line x1="1045.4" y1="830" x2="1045.4" y2="1070" stroke="#000" stroke-width="1.4" stroke-dasharray="2.5 2"/>
<path d="M1080.7,831.1 C1065,831 1055,826 1049,820" fill="none" stroke="#000" stroke-width="1.6" />
<path d="M1148.75,1003.75 L1177.5,982.5 L1182.5,973.75 L1216.25,951.25 L1205,968.75 L1190,982.5 L1170,992.5 L1150,1005 Z" fill="none" stroke="#000" stroke-width="1.8" />
<path d="M1179,978 L1186,975 L1188,981 L1181,984 Z" fill="#555" stroke="#000" stroke-width="1" />
<path d="M1207.5,1028.75 C1185,1028 1172,1012 1167.5,993.75" fill="none" stroke="#000" stroke-width="1.6" />
<path d="M1061.7,1143.2 L1071.1,1147 L1074,1154.5 L1042.8,1230 L1029.6,1238.5 L1012.6,1239.4 L1010.8,1234.7 L999.4,1222.5 L1018.3,1188.5 L1042.8,1165.8 Z" fill="none" stroke="#000" stroke-width="2" />
<path d="M1007,1222.5 L1035.3,1184.7 L1056,1164 L1037.2,1220.6 L1033.4,1224.3 L1008.9,1224.3 Z" fill="none" stroke="#000" stroke-width="2.2" />
<path d="M1012,1239 L1014,1232 L1040,1230" fill="none" stroke="#000" stroke-width="1.6" />
<path d="M1030,1176 L1060,1147 M1034,1180 L1064,1151" fill="none" stroke="#000" stroke-width="1.5" />
<circle cx="1019" cy="1236" r="1.5"/><circle cx="1025" cy="1236" r="1.5"/><circle cx="1063" cy="1147" r="2" fill="none" stroke="#000" stroke-width="1.4"/>
<path d="M1119,1093 C1090,1093 1075,1110 1072,1143" fill="none" stroke="#000" stroke-width="1.6" />
<path d="M1094.7,1222.5 L1110.8,1209.2 L1118.3,1207.4 L1120.2,1218.7 L1116.4,1222.5" fill="none" stroke="#000" stroke-width="1.9" />
<circle cx="1098" cy="1223" r="3" fill="none" stroke="#000" stroke-width="1.6"/><circle cx="1115" cy="1213" r="2" />
<path d="M1100,1226 L1104,1241 L1106,1269 L1108,1298 L1111,1312 L1112.6,1326.2 L1110,1345 L1105,1352" fill="none" stroke="#000" stroke-width="1.6" />
<path d="M1107,1218.7 C1110,1216 1113,1217 1112.6,1220.6 L1124.9,1328.1 C1124,1340 1120,1350 1114.5,1354.5" fill="none" stroke="#000" stroke-width="1.9" />
<rect x="1100.3" y="1236.4" width="4" height="6" fill="#fff" stroke="#000" stroke-width="1.5"/>
<rect x="1102.2" y="1251.5" width="4" height="6" fill="#fff" stroke="#000" stroke-width="1.5"/>
<rect x="1104" y="1266.6" width="4" height="6" fill="#fff" stroke="#000" stroke-width="1.5"/>
<rect x="1105.9" y="1281.7" width="4" height="6" fill="#fff" stroke="#000" stroke-width="1.5"/>
<rect x="1106.9" y="1294.9" width="4" height="6" fill="#fff" stroke="#000" stroke-width="1.5"/>
<rect x="1108.8" y="1309.1" width="4" height="6" fill="#fff" stroke="#000" stroke-width="1.5"/>
<rect x="1110.6" y="1323.2" width="4" height="6" fill="#fff" stroke="#000" stroke-width="1.5"/>
<path d="M1093,1362 L1110,1350 L1119,1357 L1102,1370 Z" fill="none" stroke="#000" stroke-width="1.6" />
<ellipse cx="1096" cy="1366" rx="3.5" ry="6" transform="rotate(30 1096 1366)" fill="#fff" stroke="#000" stroke-width="1.7"/>
<line x1="1091.9" y1="1367" x2="1034.6" y2="1423.8" stroke="#000" stroke-width="1.6" />
<line x1="1118.3" y1="1222.5" x2="1133.4" y2="1230" stroke="#000" stroke-width="1.5" />
<path d="M1128,1240 L1134,1232 L1145,1225 L1156,1228 L1158,1240 L1150,1255 L1140,1260 L1130,1258 L1127,1248 Z" fill="none" stroke="#000" stroke-width="1.4" stroke-dasharray="3 1.5"/>
<path d="M1135,1245 L1140,1236 L1148,1238 L1146,1248" fill="none" stroke="#000" stroke-width="1.2" />
<line x1="1152.3" y1="1241.3" x2="1190" y2="1264" stroke="#000" stroke-width="1.5" />
<path d="M1178,1254 L1183,1259" fill="none" stroke="#000" stroke-width="3" />
<path d="M1211.7,1290.4 C1190,1290 1180,1275 1178.7,1258.3" fill="none" stroke="#000" stroke-width="1.6" />
<path d="M1150.4,1164.9 C1125,1165 1112,1185 1112.6,1207.4" fill="none" stroke="#000" stroke-width="1.6" />
<path d="M1231.5,1269.6 L1250.4,1269.6 L1250.4,1313 L1231.5,1313" fill="none" stroke="#000" stroke-width="1.8" />
<line x1="1250.4" y1="1292.3" x2="1271.1" y2="1292.3" stroke="#000" stroke-width="1.8" />
<line x1="1026.3" y1="1424.8" x2="742.8" y2="1706.3" stroke="#000" stroke-width="2.8" />
<line x1="1033.5" y1="1435.2" x2="749" y2="1720.8" stroke="#000" stroke-width="1.8" />
<path d="M1026.3,1424.8 C1030,1420 1036,1423 1036,1428 L1033.5,1435.2" fill="none" stroke="#000" stroke-width="1.8" />
<ellipse cx="745.9" cy="1713.5" rx="4" ry="8" transform="rotate(35 745.9 1713.5)" fill="#fff" stroke="#000" stroke-width="1.8"/>
<path d="M894,1524 C905,1523 912,1528 913.5,1537" fill="none" stroke="#000" stroke-width="1.6" />
<line x1="812" y1="1139" x2="1017" y2="1427" stroke="#000" stroke-width="1.6" />
<line x1="717" y1="1652" x2="751" y2="1698" stroke="#000" stroke-width="1.6" />
<path d="M287.6,1586.2 C275,1587 266,1590 259.5,1594.5 C250,1600 244,1606 241.6,1611.1 C237,1618 235,1624 236.5,1629 C237,1635 239,1639 241.6,1641.8 L256.9,1654.6 C261,1656 265,1655 268.4,1652 L297.8,1635.4 C304,1630 309,1622 313.1,1616.2 L319.5,1603.5 C320,1600 319,1598 318.3,1597.1 L297.8,1586.8" fill="none" stroke="#000" stroke-width="1.8" />
<path d="M285,1595.1 C277,1596 271,1598 265.9,1600.9 C259,1606 254,1611 251.8,1615 L248,1626.5 C248,1630 250,1632 251.8,1632.9 L267.1,1646.9 L292.7,1636.7 C302,1629 308,1622 311.9,1615 L314.4,1607.3 C312,1602 309,1600 305.5,1598.3 L292.7,1594.5 Z" fill="none" stroke="#000" stroke-width="2" />
<path d="M252,1630 L262,1640 L268,1645 M268,1646 L300,1632 L314,1610" fill="none" stroke="#000" stroke-width="3" />
<path d="M285,1598 C288,1596 296,1598 298,1603 C297,1607 290,1606 286,1603 Z" fill="none" stroke="#000" stroke-width="1.6" />
<path d="M259,1630 C272,1628 280,1620 285,1611" fill="none" stroke="#000" stroke-width="1.5" />
<path d="M270,1637 L282,1633 L285,1637 L273,1641 Z M288,1625 L298,1618 L300,1622 L290,1629 Z M295,1612 L306,1606" fill="none" stroke="#000" stroke-width="1.5" />
<circle cx="259.5" cy="1606" r="1.9"/>
<circle cx="242.2" cy="1629.7" r="1.9"/>
<circle cx="315.7" cy="1600.9" r="1.9"/>
<circle cx="291.4" cy="1590.7" r="1.9"/>
<circle cx="258" cy="1650" r="1.9"/>
<line x1="291.4" y1="1640.5" x2="291.4" y2="1704.4" stroke="#000" stroke-width="1.4" />
<path d="M291.4,1707 L291.4,1730" fill="none" stroke="#000" stroke-width="1.8" />
<path d="M289,1713 L291.4,1708 L293.8,1713 L291.4,1716 Z" fill="#000" stroke="#000" stroke-width="1" />
<line x1="258.2" y1="1657.1" x2="258.2" y2="1687.8" stroke="#000" stroke-width="1.4" />
<path d="M258.2,1691 L258.2,1713.4" fill="none" stroke="#000" stroke-width="1.8" />
<path d="M256,1697 L258.2,1692 L260.4,1697 L258.2,1700 Z" fill="#000" stroke="#000" stroke-width="1" />
<path d="M233.3,1672.5 C245,1672 253,1665 255,1654" fill="none" stroke="#000" stroke-width="1.6" />
<path d="M232.6,1713.4 C245,1713 253,1707 258.2,1696.8" fill="none" stroke="#000" stroke-width="1.6" />
<path d="M232.6,1754.9 C262,1754 285,1738 291.4,1714.7" fill="none" stroke="#000" stroke-width="1.6" />
<path d="M182.8,2086.9 L232.7,2057 L241.2,2060.7 L241.2,2101.5 L180.3,2134.3 L181.6,2147.7 L146.9,2130.1 L173.6,2080.8 L181.8,2085.3 Z" fill="none" stroke="#000" stroke-width="3" />
<path d="M151.1,2130.7 L177.9,2085.6 M182.2,2093.6 L237.6,2063.7 L238.2,2099.6 M179.7,2092.3 L180.9,2128.3" fill="none" stroke="#000" stroke-width="1.8" />
<text transform="translate(181.5,2128.5) skewY(-28.5) scale(0.6,1)" font-size="41" font-weight="bold" font-style="italic" stroke="#000" stroke-width="2">FWD</text>
</svg></body></html>
